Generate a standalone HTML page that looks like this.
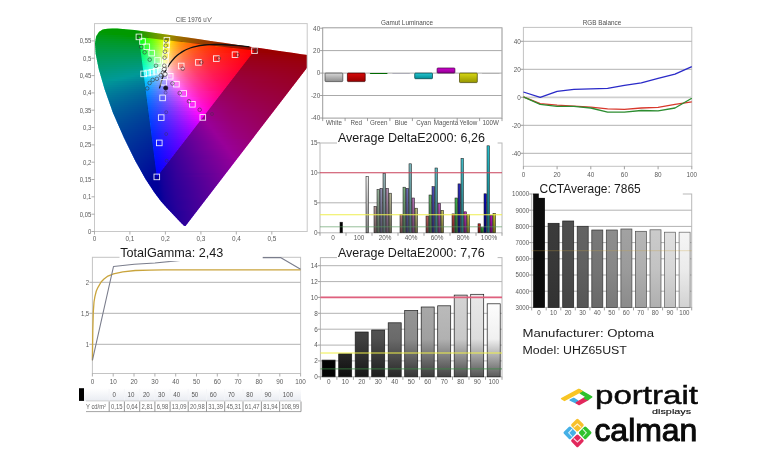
<!DOCTYPE html>
<html><head><meta charset="utf-8"><title>Calman report</title>
<style>html,body{margin:0;padding:0;background:#fff;width:770px;height:450px;overflow:hidden}svg{display:block}text{font-family:"Liberation Sans",sans-serif}</style>
</head><body>
<svg width="770" height="450" viewBox="0 0 770 450">
<defs><linearGradient id="c0" gradientUnits="userSpaceOnUse" x1="104" y1="0" x2="125" y2="0"><stop offset="0.000" stop-color="#00ff00"/><stop offset="1.000" stop-color="#00ff00"/></linearGradient><linearGradient id="c1" gradientUnits="userSpaceOnUse" x1="99" y1="0" x2="143" y2="0"><stop offset="0.000" stop-color="#00ff00"/><stop offset="0.886" stop-color="#01ff00"/><stop offset="0.932" stop-color="#24ff00"/><stop offset="1.000" stop-color="#43ff00"/></linearGradient><linearGradient id="c2" gradientUnits="userSpaceOnUse" x1="97" y1="0" x2="157" y2="0"><stop offset="0.000" stop-color="#00ff03"/><stop offset="0.683" stop-color="#00ff00"/><stop offset="0.717" stop-color="#21ff00"/><stop offset="0.767" stop-color="#42ff00"/><stop offset="1.000" stop-color="#b1ff00"/></linearGradient><linearGradient id="c3" gradientUnits="userSpaceOnUse" x1="95" y1="0" x2="171" y2="0"><stop offset="0.000" stop-color="#00ff1b"/><stop offset="0.263" stop-color="#00ff00"/><stop offset="0.566" stop-color="#00ff00"/><stop offset="0.632" stop-color="#40ff00"/><stop offset="0.750" stop-color="#8cff00"/><stop offset="0.947" stop-color="#fcff00"/><stop offset="1.000" stop-color="#ffe600"/></linearGradient><linearGradient id="c4" gradientUnits="userSpaceOnUse" x1="95" y1="0" x2="185" y2="0"><stop offset="0.000" stop-color="#00ff29"/><stop offset="0.278" stop-color="#00ff15"/><stop offset="0.411" stop-color="#00ff00"/><stop offset="0.478" stop-color="#00ff00"/><stop offset="0.522" stop-color="#33ff00"/><stop offset="0.567" stop-color="#5aff00"/><stop offset="0.800" stop-color="#fdff00"/><stop offset="0.889" stop-color="#ffcd00"/><stop offset="1.000" stop-color="#ffa200"/></linearGradient><linearGradient id="c5" gradientUnits="userSpaceOnUse" x1="94" y1="0" x2="199" y2="0"><stop offset="0.000" stop-color="#00ff36"/><stop offset="0.429" stop-color="#00ff14"/><stop offset="0.438" stop-color="#08ff06"/><stop offset="0.514" stop-color="#49ff00"/><stop offset="0.524" stop-color="#72ff00"/><stop offset="0.695" stop-color="#ffff00"/><stop offset="0.752" stop-color="#ffd700"/><stop offset="0.819" stop-color="#ffb400"/><stop offset="1.000" stop-color="#ff7600"/></linearGradient><linearGradient id="c6" gradientUnits="userSpaceOnUse" x1="94" y1="0" x2="213" y2="0"><stop offset="0.000" stop-color="#00ff41"/><stop offset="0.378" stop-color="#00ff29"/><stop offset="0.387" stop-color="#06ff12"/><stop offset="0.513" stop-color="#85ff09"/><stop offset="0.613" stop-color="#fffe00"/><stop offset="0.681" stop-color="#ffcb00"/><stop offset="0.765" stop-color="#ff9f00"/><stop offset="0.866" stop-color="#ff7900"/><stop offset="1.000" stop-color="#ff5600"/></linearGradient><linearGradient id="c7" gradientUnits="userSpaceOnUse" x1="94" y1="0" x2="226" y2="0"><stop offset="0.000" stop-color="#00ff4b"/><stop offset="0.341" stop-color="#00ff39"/><stop offset="0.348" stop-color="#04ff1e"/><stop offset="0.455" stop-color="#7cff17"/><stop offset="0.553" stop-color="#fffc0e"/><stop offset="0.606" stop-color="#ffbd06"/><stop offset="0.667" stop-color="#ff8d00"/><stop offset="0.674" stop-color="#ffa500"/><stop offset="0.811" stop-color="#ff6e00"/><stop offset="1.000" stop-color="#ff3d00"/></linearGradient><linearGradient id="c8" gradientUnits="userSpaceOnUse" x1="94" y1="0" x2="240" y2="0"><stop offset="0.000" stop-color="#00ff55"/><stop offset="0.308" stop-color="#00ff48"/><stop offset="0.315" stop-color="#02ff2a"/><stop offset="0.411" stop-color="#7bff24"/><stop offset="0.500" stop-color="#fffb1d"/><stop offset="0.534" stop-color="#ffca15"/><stop offset="0.582" stop-color="#ff9b0d"/><stop offset="0.630" stop-color="#ff7a07"/><stop offset="0.692" stop-color="#ff5b02"/><stop offset="0.719" stop-color="#ff5000"/><stop offset="0.726" stop-color="#ff6f00"/><stop offset="1.000" stop-color="#ff2600"/></linearGradient><linearGradient id="c9" gradientUnits="userSpaceOnUse" x1="94" y1="0" x2="254" y2="0"><stop offset="0.000" stop-color="#00ff5e"/><stop offset="0.287" stop-color="#00ff55"/><stop offset="0.294" stop-color="#09ff35"/><stop offset="0.375" stop-color="#7bff32"/><stop offset="0.450" stop-color="#f9ff2d"/><stop offset="0.456" stop-color="#fff92c"/><stop offset="0.487" stop-color="#ffc922"/><stop offset="0.531" stop-color="#ff9918"/><stop offset="0.581" stop-color="#ff7410"/><stop offset="0.644" stop-color="#ff5309"/><stop offset="0.756" stop-color="#ff2e00"/><stop offset="0.762" stop-color="#ff4b00"/><stop offset="1.000" stop-color="#ff0c00"/></linearGradient><linearGradient id="c10" gradientUnits="userSpaceOnUse" x1="94" y1="0" x2="268" y2="0"><stop offset="0.000" stop-color="#00ff67"/><stop offset="0.264" stop-color="#00ff63"/><stop offset="0.270" stop-color="#06ff41"/><stop offset="0.339" stop-color="#71ff40"/><stop offset="0.414" stop-color="#fbff3d"/><stop offset="0.420" stop-color="#fff73b"/><stop offset="0.454" stop-color="#ffbf2c"/><stop offset="0.494" stop-color="#ff9221"/><stop offset="0.546" stop-color="#ff6b17"/><stop offset="0.609" stop-color="#ff4a0e"/><stop offset="0.690" stop-color="#ff2e07"/><stop offset="0.793" stop-color="#ff1600"/><stop offset="0.799" stop-color="#ff2d00"/><stop offset="0.937" stop-color="#ff0000"/><stop offset="1.000" stop-color="#ff0000"/></linearGradient><linearGradient id="c11" gradientUnits="userSpaceOnUse" x1="94" y1="0" x2="281" y2="0"><stop offset="0.000" stop-color="#00ff70"/><stop offset="0.246" stop-color="#00ff6f"/><stop offset="0.251" stop-color="#04ff4e"/><stop offset="0.326" stop-color="#84ff4d"/><stop offset="0.385" stop-color="#fdff4d"/><stop offset="0.390" stop-color="#fff54a"/><stop offset="0.428" stop-color="#ffb536"/><stop offset="0.471" stop-color="#ff8628"/><stop offset="0.524" stop-color="#ff5f1c"/><stop offset="0.588" stop-color="#ff3f12"/><stop offset="0.701" stop-color="#ff1d08"/><stop offset="0.829" stop-color="#ff0500"/><stop offset="0.834" stop-color="#ff0e00"/><stop offset="0.861" stop-color="#ff0000"/><stop offset="1.000" stop-color="#ff0000"/></linearGradient><linearGradient id="c12" gradientUnits="userSpaceOnUse" x1="94" y1="0" x2="295" y2="0"><stop offset="0.000" stop-color="#00ff79"/><stop offset="0.229" stop-color="#00ff7b"/><stop offset="0.234" stop-color="#02ff5a"/><stop offset="0.303" stop-color="#84ff5c"/><stop offset="0.358" stop-color="#ffff5d"/><stop offset="0.393" stop-color="#ffbb45"/><stop offset="0.433" stop-color="#ff8933"/><stop offset="0.488" stop-color="#ff5d24"/><stop offset="0.557" stop-color="#ff3a17"/><stop offset="0.657" stop-color="#ff1b0c"/><stop offset="0.791" stop-color="#ff0003"/><stop offset="0.796" stop-color="#ff000c"/><stop offset="0.861" stop-color="#ff0000"/><stop offset="1.000" stop-color="#ff0000"/></linearGradient><linearGradient id="c13" gradientUnits="userSpaceOnUse" x1="94" y1="0" x2="307" y2="0"><stop offset="0.000" stop-color="#00ff82"/><stop offset="0.221" stop-color="#00ff88"/><stop offset="0.225" stop-color="#09ff68"/><stop offset="0.286" stop-color="#83ff6b"/><stop offset="0.338" stop-color="#fffd6d"/><stop offset="0.371" stop-color="#ffb951"/><stop offset="0.418" stop-color="#ff7d39"/><stop offset="0.474" stop-color="#ff5228"/><stop offset="0.545" stop-color="#ff311a"/><stop offset="0.737" stop-color="#ff0108"/><stop offset="0.742" stop-color="#ff0016"/><stop offset="0.892" stop-color="#ff0000"/><stop offset="1.000" stop-color="#ff0000"/></linearGradient><linearGradient id="c14" gradientUnits="userSpaceOnUse" x1="94" y1="0" x2="307" y2="0"><stop offset="0.000" stop-color="#00ff8a"/><stop offset="0.221" stop-color="#00ff93"/><stop offset="0.225" stop-color="#07ff75"/><stop offset="0.282" stop-color="#79ff79"/><stop offset="0.338" stop-color="#fffc7d"/><stop offset="0.371" stop-color="#ffb75e"/><stop offset="0.418" stop-color="#ff7b43"/><stop offset="0.474" stop-color="#ff502f"/><stop offset="0.545" stop-color="#ff2f20"/><stop offset="0.732" stop-color="#ff000c"/><stop offset="0.737" stop-color="#ff001d"/><stop offset="1.000" stop-color="#ff0000"/></linearGradient><linearGradient id="c15" gradientUnits="userSpaceOnUse" x1="95" y1="0" x2="307" y2="0"><stop offset="0.000" stop-color="#00ff93"/><stop offset="0.217" stop-color="#00ff9f"/><stop offset="0.222" stop-color="#04ff83"/><stop offset="0.278" stop-color="#78ff89"/><stop offset="0.335" stop-color="#fffa8e"/><stop offset="0.368" stop-color="#ffb56a"/><stop offset="0.415" stop-color="#ff794c"/><stop offset="0.472" stop-color="#ff4f37"/><stop offset="0.542" stop-color="#ff2d26"/><stop offset="0.722" stop-color="#ff0111"/><stop offset="0.726" stop-color="#ff0025"/><stop offset="1.000" stop-color="#ff0008"/></linearGradient><linearGradient id="c16" gradientUnits="userSpaceOnUse" x1="95" y1="0" x2="307" y2="0"><stop offset="0.000" stop-color="#00ff9b"/><stop offset="0.217" stop-color="#00ffab"/><stop offset="0.222" stop-color="#02ff90"/><stop offset="0.278" stop-color="#78ff98"/><stop offset="0.330" stop-color="#f9ffa2"/><stop offset="0.335" stop-color="#fff89e"/><stop offset="0.368" stop-color="#ffb277"/><stop offset="0.415" stop-color="#ff7756"/><stop offset="0.472" stop-color="#ff4d3e"/><stop offset="0.542" stop-color="#ff2c2c"/><stop offset="0.717" stop-color="#ff0015"/><stop offset="0.722" stop-color="#ff002c"/><stop offset="1.000" stop-color="#ff000f"/></linearGradient><linearGradient id="c17" gradientUnits="userSpaceOnUse" x1="96" y1="0" x2="307" y2="0"><stop offset="0.000" stop-color="#00ffa4"/><stop offset="0.218" stop-color="#00ffb7"/><stop offset="0.223" stop-color="#09ffa0"/><stop offset="0.280" stop-color="#82ffaa"/><stop offset="0.327" stop-color="#fbffb4"/><stop offset="0.332" stop-color="#fff6af"/><stop offset="0.365" stop-color="#ffb084"/><stop offset="0.408" stop-color="#ff7a63"/><stop offset="0.464" stop-color="#ff4e48"/><stop offset="0.540" stop-color="#ff2a32"/><stop offset="0.706" stop-color="#ff011a"/><stop offset="0.711" stop-color="#ff0032"/><stop offset="1.000" stop-color="#ff0015"/></linearGradient><linearGradient id="c18" gradientUnits="userSpaceOnUse" x1="96" y1="0" x2="307" y2="0"><stop offset="0.000" stop-color="#00ffac"/><stop offset="0.218" stop-color="#00ffc3"/><stop offset="0.223" stop-color="#07ffae"/><stop offset="0.280" stop-color="#82ffbb"/><stop offset="0.327" stop-color="#fdffc8"/><stop offset="0.332" stop-color="#fff4c0"/><stop offset="0.365" stop-color="#ffae91"/><stop offset="0.408" stop-color="#ff786d"/><stop offset="0.464" stop-color="#ff4c4f"/><stop offset="0.540" stop-color="#ff2938"/><stop offset="0.701" stop-color="#ff001e"/><stop offset="0.706" stop-color="#ff0038"/><stop offset="1.000" stop-color="#ff001a"/></linearGradient><linearGradient id="c19" gradientUnits="userSpaceOnUse" x1="96" y1="0" x2="307" y2="0"><stop offset="0.000" stop-color="#00ffb4"/><stop offset="0.218" stop-color="#00ffce"/><stop offset="0.223" stop-color="#04ffbe"/><stop offset="0.280" stop-color="#81ffcc"/><stop offset="0.327" stop-color="#ffffdb"/><stop offset="0.360" stop-color="#ffb4a4"/><stop offset="0.403" stop-color="#ff7a7a"/><stop offset="0.460" stop-color="#ff4d59"/><stop offset="0.531" stop-color="#ff2b40"/><stop offset="0.692" stop-color="#ff0123"/><stop offset="0.697" stop-color="#ff003f"/><stop offset="1.000" stop-color="#ff001e"/></linearGradient><linearGradient id="c20" gradientUnits="userSpaceOnUse" x1="97" y1="0" x2="307" y2="0"><stop offset="0.000" stop-color="#00ffbd"/><stop offset="0.214" stop-color="#00ffda"/><stop offset="0.219" stop-color="#02ffcd"/><stop offset="0.276" stop-color="#81ffde"/><stop offset="0.324" stop-color="#fffdee"/><stop offset="0.357" stop-color="#ffb1b2"/><stop offset="0.400" stop-color="#ff7885"/><stop offset="0.457" stop-color="#ff4b61"/><stop offset="0.529" stop-color="#ff2946"/><stop offset="0.686" stop-color="#ff0028"/><stop offset="0.690" stop-color="#ff0045"/><stop offset="1.000" stop-color="#ff0023"/></linearGradient><linearGradient id="c21" gradientUnits="userSpaceOnUse" x1="97" y1="0" x2="307" y2="0"><stop offset="0.000" stop-color="#00ffc5"/><stop offset="0.219" stop-color="#00ffe7"/><stop offset="0.224" stop-color="#0affdf"/><stop offset="0.271" stop-color="#75ffef"/><stop offset="0.310" stop-color="#d9ffff"/><stop offset="0.324" stop-color="#fdf9ff"/><stop offset="0.329" stop-color="#ffedf5"/><stop offset="0.362" stop-color="#ffa7b9"/><stop offset="0.405" stop-color="#ff718b"/><stop offset="0.462" stop-color="#ff4666"/><stop offset="0.538" stop-color="#ff244a"/><stop offset="0.676" stop-color="#ff012d"/><stop offset="0.681" stop-color="#ff004b"/><stop offset="1.000" stop-color="#ff0027"/></linearGradient><linearGradient id="c22" gradientUnits="userSpaceOnUse" x1="98" y1="0" x2="306" y2="0"><stop offset="0.000" stop-color="#00ffce"/><stop offset="0.216" stop-color="#00fff3"/><stop offset="0.264" stop-color="#68feff"/><stop offset="0.332" stop-color="#ffdefc"/><stop offset="0.365" stop-color="#ff9dc0"/><stop offset="0.409" stop-color="#ff6b91"/><stop offset="0.466" stop-color="#ff426c"/><stop offset="0.543" stop-color="#ff214e"/><stop offset="0.668" stop-color="#ff0133"/><stop offset="0.673" stop-color="#ff0052"/><stop offset="1.000" stop-color="#ff002b"/></linearGradient><linearGradient id="c23" gradientUnits="userSpaceOnUse" x1="98" y1="0" x2="304" y2="0"><stop offset="0.000" stop-color="#00ffd7"/><stop offset="0.218" stop-color="#00ffff"/><stop offset="0.223" stop-color="#04fdff"/><stop offset="0.340" stop-color="#fbceff"/><stop offset="0.345" stop-color="#ffc6f8"/><stop offset="0.379" stop-color="#ff8dc0"/><stop offset="0.427" stop-color="#ff5c90"/><stop offset="0.485" stop-color="#ff386c"/><stop offset="0.563" stop-color="#ff1a50"/><stop offset="0.670" stop-color="#ff0038"/><stop offset="0.675" stop-color="#ff0057"/><stop offset="1.000" stop-color="#ff0030"/></linearGradient><linearGradient id="c24" gradientUnits="userSpaceOnUse" x1="99" y1="0" x2="303" y2="0"><stop offset="0.000" stop-color="#00ffe0"/><stop offset="0.167" stop-color="#00fffe"/><stop offset="0.221" stop-color="#01edff"/><stop offset="0.348" stop-color="#ffbafe"/><stop offset="0.382" stop-color="#ff85c6"/><stop offset="0.426" stop-color="#ff5a99"/><stop offset="0.485" stop-color="#ff3674"/><stop offset="0.559" stop-color="#ff1a57"/><stop offset="0.662" stop-color="#ff013e"/><stop offset="0.667" stop-color="#ff005e"/><stop offset="1.000" stop-color="#ff0034"/></linearGradient><linearGradient id="c25" gradientUnits="userSpaceOnUse" x1="100" y1="0" x2="301" y2="0"><stop offset="0.000" stop-color="#00ffe9"/><stop offset="0.119" stop-color="#00ffff"/><stop offset="0.219" stop-color="#00e8ff"/><stop offset="0.224" stop-color="#09dcff"/><stop offset="0.358" stop-color="#ffa5fa"/><stop offset="0.398" stop-color="#ff72c0"/><stop offset="0.443" stop-color="#ff4d97"/><stop offset="0.502" stop-color="#ff2e74"/><stop offset="0.572" stop-color="#ff1659"/><stop offset="0.662" stop-color="#ff0044"/><stop offset="0.667" stop-color="#ff0064"/><stop offset="1.000" stop-color="#ff0038"/></linearGradient><linearGradient id="c26" gradientUnits="userSpaceOnUse" x1="100" y1="0" x2="300" y2="0"><stop offset="0.000" stop-color="#00fff2"/><stop offset="0.075" stop-color="#00ffff"/><stop offset="0.220" stop-color="#00deff"/><stop offset="0.225" stop-color="#06cfff"/><stop offset="0.365" stop-color="#fe9aff"/><stop offset="0.405" stop-color="#ff6bc6"/><stop offset="0.450" stop-color="#ff489c"/><stop offset="0.510" stop-color="#ff2a78"/><stop offset="0.580" stop-color="#ff125d"/><stop offset="0.655" stop-color="#ff014a"/><stop offset="0.660" stop-color="#ff006a"/><stop offset="1.000" stop-color="#ff003c"/></linearGradient><linearGradient id="c27" gradientUnits="userSpaceOnUse" x1="101" y1="0" x2="298" y2="0"><stop offset="0.000" stop-color="#00fffb"/><stop offset="0.218" stop-color="#00d4ff"/><stop offset="0.223" stop-color="#03c3ff"/><stop offset="0.376" stop-color="#ff8afc"/><stop offset="0.416" stop-color="#ff5fc5"/><stop offset="0.462" stop-color="#ff409d"/><stop offset="0.523" stop-color="#ff247a"/><stop offset="0.594" stop-color="#ff0e60"/><stop offset="0.655" stop-color="#ff0050"/><stop offset="0.660" stop-color="#ff0070"/><stop offset="0.807" stop-color="#ff0056"/><stop offset="1.000" stop-color="#ff0040"/></linearGradient><linearGradient id="c28" gradientUnits="userSpaceOnUse" x1="101" y1="0" x2="297" y2="0"><stop offset="0.000" stop-color="#00faff"/><stop offset="0.219" stop-color="#00ccff"/><stop offset="0.224" stop-color="#01b8ff"/><stop offset="0.383" stop-color="#fd80ff"/><stop offset="0.388" stop-color="#ff7bf9"/><stop offset="0.429" stop-color="#ff55c5"/><stop offset="0.474" stop-color="#ff389f"/><stop offset="0.536" stop-color="#ff1e7d"/><stop offset="0.612" stop-color="#ff0961"/><stop offset="0.648" stop-color="#ff0157"/><stop offset="0.653" stop-color="#ff0077"/><stop offset="0.806" stop-color="#ff005b"/><stop offset="1.000" stop-color="#ff0044"/></linearGradient><linearGradient id="c29" gradientUnits="userSpaceOnUse" x1="102" y1="0" x2="295" y2="0"><stop offset="0.000" stop-color="#00f1ff"/><stop offset="0.223" stop-color="#00c3ff"/><stop offset="0.228" stop-color="#07acff"/><stop offset="0.394" stop-color="#ff73fe"/><stop offset="0.435" stop-color="#ff4fca"/><stop offset="0.482" stop-color="#ff33a3"/><stop offset="0.544" stop-color="#ff1b81"/><stop offset="0.617" stop-color="#ff0766"/><stop offset="0.648" stop-color="#ff005d"/><stop offset="0.653" stop-color="#ff007d"/><stop offset="0.803" stop-color="#ff0060"/><stop offset="1.000" stop-color="#ff0048"/></linearGradient><linearGradient id="c30" gradientUnits="userSpaceOnUse" x1="102" y1="0" x2="294" y2="0"><stop offset="0.000" stop-color="#00e9ff"/><stop offset="0.224" stop-color="#00bbff"/><stop offset="0.229" stop-color="#05a2ff"/><stop offset="0.406" stop-color="#ff66fb"/><stop offset="0.448" stop-color="#ff45ca"/><stop offset="0.500" stop-color="#ff2aa1"/><stop offset="0.562" stop-color="#ff1480"/><stop offset="0.635" stop-color="#ff0266"/><stop offset="0.641" stop-color="#ff0165"/><stop offset="0.646" stop-color="#ff0084"/><stop offset="0.797" stop-color="#ff0065"/><stop offset="1.000" stop-color="#ff004c"/></linearGradient><linearGradient id="c31" gradientUnits="userSpaceOnUse" x1="103" y1="0" x2="292" y2="0"><stop offset="0.000" stop-color="#00e1ff"/><stop offset="0.222" stop-color="#00b4ff"/><stop offset="0.228" stop-color="#0399ff"/><stop offset="0.413" stop-color="#ff5eff"/><stop offset="0.455" stop-color="#ff40ce"/><stop offset="0.503" stop-color="#ff28a9"/><stop offset="0.566" stop-color="#ff1286"/><stop offset="0.640" stop-color="#ff006b"/><stop offset="0.646" stop-color="#ff008a"/><stop offset="0.799" stop-color="#ff006a"/><stop offset="1.000" stop-color="#ff0050"/></linearGradient><linearGradient id="c32" gradientUnits="userSpaceOnUse" x1="104" y1="0" x2="291" y2="0"><stop offset="0.000" stop-color="#00d9ff"/><stop offset="0.219" stop-color="#00adff"/><stop offset="0.225" stop-color="#0191ff"/><stop offset="0.422" stop-color="#ff53fc"/><stop offset="0.460" stop-color="#ff3ad3"/><stop offset="0.508" stop-color="#ff24ad"/><stop offset="0.631" stop-color="#ff0174"/><stop offset="0.636" stop-color="#ff0091"/><stop offset="0.791" stop-color="#ff006f"/><stop offset="1.000" stop-color="#ff0054"/></linearGradient><linearGradient id="c33" gradientUnits="userSpaceOnUse" x1="104" y1="0" x2="289" y2="0"><stop offset="0.000" stop-color="#00d2ff"/><stop offset="0.227" stop-color="#00a5ff"/><stop offset="0.232" stop-color="#0688ff"/><stop offset="0.432" stop-color="#fe4cff"/><stop offset="0.438" stop-color="#ff49fa"/><stop offset="0.476" stop-color="#ff32d2"/><stop offset="0.519" stop-color="#ff20b1"/><stop offset="0.627" stop-color="#ff017d"/><stop offset="0.632" stop-color="#ff0099"/><stop offset="0.789" stop-color="#ff0075"/><stop offset="1.000" stop-color="#ff0058"/></linearGradient><linearGradient id="c34" gradientUnits="userSpaceOnUse" x1="105" y1="0" x2="288" y2="0"><stop offset="0.000" stop-color="#00cbff"/><stop offset="0.224" stop-color="#009fff"/><stop offset="0.230" stop-color="#0481ff"/><stop offset="0.443" stop-color="#ff42fe"/><stop offset="0.475" stop-color="#ff30db"/><stop offset="0.519" stop-color="#ff1eb8"/><stop offset="0.623" stop-color="#ff0184"/><stop offset="0.628" stop-color="#ff009f"/><stop offset="0.787" stop-color="#ff007a"/><stop offset="1.000" stop-color="#ff005c"/></linearGradient><linearGradient id="c35" gradientUnits="userSpaceOnUse" x1="106" y1="0" x2="286" y2="0"><stop offset="0.000" stop-color="#00c4ff"/><stop offset="0.222" stop-color="#009aff"/><stop offset="0.228" stop-color="#027aff"/><stop offset="0.456" stop-color="#ff39fb"/><stop offset="0.528" stop-color="#ff1abc"/><stop offset="0.617" stop-color="#ff018e"/><stop offset="0.622" stop-color="#ff00a8"/><stop offset="0.783" stop-color="#ff0080"/><stop offset="1.000" stop-color="#ff0060"/></linearGradient><linearGradient id="c36" gradientUnits="userSpaceOnUse" x1="107" y1="0" x2="284" y2="0"><stop offset="0.000" stop-color="#00beff"/><stop offset="0.220" stop-color="#0094ff"/><stop offset="0.226" stop-color="#0074ff"/><stop offset="0.463" stop-color="#ff34ff"/><stop offset="0.531" stop-color="#ff17c4"/><stop offset="0.616" stop-color="#ff0096"/><stop offset="0.621" stop-color="#ff00ae"/><stop offset="0.785" stop-color="#ff0084"/><stop offset="1.000" stop-color="#ff0064"/></linearGradient><linearGradient id="c37" gradientUnits="userSpaceOnUse" x1="107" y1="0" x2="283" y2="0"><stop offset="0.000" stop-color="#00b8ff"/><stop offset="0.227" stop-color="#008eff"/><stop offset="0.233" stop-color="#056dff"/><stop offset="0.477" stop-color="#ff2cfc"/><stop offset="0.534" stop-color="#ff15cb"/><stop offset="0.608" stop-color="#ff01a1"/><stop offset="0.614" stop-color="#ff00b7"/><stop offset="0.778" stop-color="#ff008a"/><stop offset="1.000" stop-color="#ff0068"/></linearGradient><linearGradient id="c38" gradientUnits="userSpaceOnUse" x1="108" y1="0" x2="281" y2="0"><stop offset="0.000" stop-color="#00b2ff"/><stop offset="0.225" stop-color="#0089ff"/><stop offset="0.231" stop-color="#0367ff"/><stop offset="0.486" stop-color="#fe26ff"/><stop offset="0.543" stop-color="#ff11cf"/><stop offset="0.607" stop-color="#ff00aa"/><stop offset="0.613" stop-color="#ff00be"/><stop offset="0.775" stop-color="#ff0091"/><stop offset="1.000" stop-color="#ff006c"/></linearGradient><linearGradient id="c39" gradientUnits="userSpaceOnUse" x1="109" y1="0" x2="280" y2="0"><stop offset="0.000" stop-color="#00acff"/><stop offset="0.222" stop-color="#0084ff"/><stop offset="0.228" stop-color="#0262ff"/><stop offset="0.497" stop-color="#ff1ffd"/><stop offset="0.544" stop-color="#ff0fd7"/><stop offset="0.596" stop-color="#ff01b6"/><stop offset="0.602" stop-color="#ff00c7"/><stop offset="0.772" stop-color="#ff0096"/><stop offset="1.000" stop-color="#ff0070"/></linearGradient><linearGradient id="c40" gradientUnits="userSpaceOnUse" x1="109" y1="0" x2="278" y2="0"><stop offset="0.000" stop-color="#00a7ff"/><stop offset="0.225" stop-color="#007fff"/><stop offset="0.231" stop-color="#005dff"/><stop offset="0.515" stop-color="#ff18fb"/><stop offset="0.598" stop-color="#ff00c0"/><stop offset="0.604" stop-color="#ff00cf"/><stop offset="0.769" stop-color="#ff009c"/><stop offset="1.000" stop-color="#ff0074"/></linearGradient><linearGradient id="c41" gradientUnits="userSpaceOnUse" x1="110" y1="0" x2="277" y2="0"><stop offset="0.000" stop-color="#00a2ff"/><stop offset="0.228" stop-color="#007aff"/><stop offset="0.234" stop-color="#0557ff"/><stop offset="0.521" stop-color="#ff14fe"/><stop offset="0.587" stop-color="#ff01ce"/><stop offset="0.593" stop-color="#ff00d9"/><stop offset="0.760" stop-color="#ff00a3"/><stop offset="1.000" stop-color="#ff0078"/></linearGradient><linearGradient id="c42" gradientUnits="userSpaceOnUse" x1="111" y1="0" x2="275" y2="0"><stop offset="0.000" stop-color="#009cff"/><stop offset="0.226" stop-color="#0076ff"/><stop offset="0.232" stop-color="#0353ff"/><stop offset="0.537" stop-color="#ff0dfc"/><stop offset="0.579" stop-color="#ff02dc"/><stop offset="0.585" stop-color="#ff00e3"/><stop offset="0.726" stop-color="#ff00b1"/><stop offset="1.000" stop-color="#ff007d"/></linearGradient><linearGradient id="c43" gradientUnits="userSpaceOnUse" x1="112" y1="0" x2="274" y2="0"><stop offset="0.000" stop-color="#0097ff"/><stop offset="0.222" stop-color="#0071ff"/><stop offset="0.228" stop-color="#024fff"/><stop offset="0.543" stop-color="#ff09ff"/><stop offset="0.574" stop-color="#ff01e8"/><stop offset="0.580" stop-color="#ff00ec"/><stop offset="0.728" stop-color="#ff00b5"/><stop offset="1.000" stop-color="#ff0081"/></linearGradient><linearGradient id="c44" gradientUnits="userSpaceOnUse" x1="112" y1="0" x2="272" y2="0"><stop offset="0.000" stop-color="#0093ff"/><stop offset="0.225" stop-color="#006dff"/><stop offset="0.231" stop-color="#004bff"/><stop offset="0.562" stop-color="#ff03fd"/><stop offset="0.644" stop-color="#ff00d8"/><stop offset="0.744" stop-color="#ff00b8"/><stop offset="1.000" stop-color="#ff0085"/></linearGradient><linearGradient id="c45" gradientUnits="userSpaceOnUse" x1="113" y1="0" x2="271" y2="0"><stop offset="0.000" stop-color="#008eff"/><stop offset="0.228" stop-color="#0068ff"/><stop offset="0.234" stop-color="#0446ff"/><stop offset="0.570" stop-color="#fe00ff"/><stop offset="0.652" stop-color="#ff00da"/><stop offset="0.747" stop-color="#ff00bc"/><stop offset="1.000" stop-color="#ff0089"/></linearGradient><linearGradient id="c46" gradientUnits="userSpaceOnUse" x1="114" y1="0" x2="269" y2="0"><stop offset="0.000" stop-color="#0089ff"/><stop offset="0.226" stop-color="#0065ff"/><stop offset="0.232" stop-color="#0342ff"/><stop offset="0.535" stop-color="#da06ff"/><stop offset="0.561" stop-color="#f200ff"/><stop offset="0.587" stop-color="#ff00fe"/><stop offset="0.665" stop-color="#ff00dd"/><stop offset="0.761" stop-color="#ff00be"/><stop offset="1.000" stop-color="#ff008e"/></linearGradient><linearGradient id="c47" gradientUnits="userSpaceOnUse" x1="115" y1="0" x2="268" y2="0"><stop offset="0.000" stop-color="#0085ff"/><stop offset="0.222" stop-color="#0061ff"/><stop offset="0.229" stop-color="#013fff"/><stop offset="0.549" stop-color="#dd00ff"/><stop offset="0.556" stop-color="#ea00ff"/><stop offset="0.595" stop-color="#fe00ff"/><stop offset="0.771" stop-color="#ff00c0"/><stop offset="1.000" stop-color="#ff0092"/></linearGradient><linearGradient id="c48" gradientUnits="userSpaceOnUse" x1="116" y1="0" x2="266" y2="0"><stop offset="0.000" stop-color="#0080ff"/><stop offset="0.227" stop-color="#005cff"/><stop offset="0.233" stop-color="#053bff"/><stop offset="0.540" stop-color="#cd01ff"/><stop offset="0.547" stop-color="#df00ff"/><stop offset="0.613" stop-color="#ff00ff"/><stop offset="0.780" stop-color="#ff00c4"/><stop offset="1.000" stop-color="#ff0097"/></linearGradient><linearGradient id="c49" gradientUnits="userSpaceOnUse" x1="117" y1="0" x2="265" y2="0"><stop offset="0.000" stop-color="#007cff"/><stop offset="0.223" stop-color="#0059ff"/><stop offset="0.230" stop-color="#0438ff"/><stop offset="0.534" stop-color="#c300ff"/><stop offset="0.541" stop-color="#d700ff"/><stop offset="0.628" stop-color="#ff00fe"/><stop offset="0.791" stop-color="#ff00c6"/><stop offset="1.000" stop-color="#ff009b"/></linearGradient><linearGradient id="c50" gradientUnits="userSpaceOnUse" x1="118" y1="0" x2="263" y2="0"><stop offset="0.000" stop-color="#0078ff"/><stop offset="0.221" stop-color="#0056ff"/><stop offset="0.228" stop-color="#0235ff"/><stop offset="0.524" stop-color="#b501ff"/><stop offset="0.531" stop-color="#cc00ff"/><stop offset="0.641" stop-color="#fe00ff"/><stop offset="0.800" stop-color="#ff00ca"/><stop offset="1.000" stop-color="#ff00a0"/></linearGradient><linearGradient id="c51" gradientUnits="userSpaceOnUse" x1="119" y1="0" x2="261" y2="0"><stop offset="0.000" stop-color="#0073ff"/><stop offset="0.218" stop-color="#0053ff"/><stop offset="0.225" stop-color="#0132ff"/><stop offset="0.521" stop-color="#ac00ff"/><stop offset="0.528" stop-color="#c500ff"/><stop offset="0.662" stop-color="#ff00fe"/><stop offset="0.810" stop-color="#ff00cd"/><stop offset="1.000" stop-color="#ff00a6"/></linearGradient><linearGradient id="c52" gradientUnits="userSpaceOnUse" x1="119" y1="0" x2="260" y2="0"><stop offset="0.000" stop-color="#0070ff"/><stop offset="0.227" stop-color="#004eff"/><stop offset="0.234" stop-color="#042eff"/><stop offset="0.511" stop-color="#a001ff"/><stop offset="0.518" stop-color="#bb00ff"/><stop offset="0.674" stop-color="#fe00ff"/><stop offset="0.823" stop-color="#ff00cf"/><stop offset="1.000" stop-color="#ff00aa"/></linearGradient><linearGradient id="c53" gradientUnits="userSpaceOnUse" x1="120" y1="0" x2="258" y2="0"><stop offset="0.000" stop-color="#006cff"/><stop offset="0.225" stop-color="#004bff"/><stop offset="0.232" stop-color="#032bff"/><stop offset="0.500" stop-color="#9301ff"/><stop offset="0.507" stop-color="#b100ff"/><stop offset="0.696" stop-color="#ff00ff"/><stop offset="0.833" stop-color="#ff00d3"/><stop offset="1.000" stop-color="#ff00b0"/></linearGradient><linearGradient id="c54" gradientUnits="userSpaceOnUse" x1="121" y1="0" x2="257" y2="0"><stop offset="0.000" stop-color="#0068ff"/><stop offset="0.221" stop-color="#0048ff"/><stop offset="0.228" stop-color="#0229ff"/><stop offset="0.493" stop-color="#8c01ff"/><stop offset="0.500" stop-color="#ab00ff"/><stop offset="0.706" stop-color="#fd00ff"/><stop offset="0.846" stop-color="#ff00d5"/><stop offset="1.000" stop-color="#ff00b4"/></linearGradient><linearGradient id="c55" gradientUnits="userSpaceOnUse" x1="122" y1="0" x2="255" y2="0"><stop offset="0.000" stop-color="#0064ff"/><stop offset="0.218" stop-color="#0045ff"/><stop offset="0.226" stop-color="#0127ff"/><stop offset="0.481" stop-color="#8101ff"/><stop offset="0.489" stop-color="#a100ff"/><stop offset="0.729" stop-color="#ff00ff"/><stop offset="0.857" stop-color="#ff00d8"/><stop offset="1.000" stop-color="#ff00ba"/></linearGradient><linearGradient id="c56" gradientUnits="userSpaceOnUse" x1="123" y1="0" x2="254" y2="0"><stop offset="0.000" stop-color="#0061ff"/><stop offset="0.221" stop-color="#0041ff"/><stop offset="0.229" stop-color="#0423ff"/><stop offset="0.473" stop-color="#7900ff"/><stop offset="0.481" stop-color="#9b00ff"/><stop offset="0.740" stop-color="#fd00ff"/><stop offset="1.000" stop-color="#ff00be"/></linearGradient><linearGradient id="c57" gradientUnits="userSpaceOnUse" x1="124" y1="0" x2="252" y2="0"><stop offset="0.000" stop-color="#005dff"/><stop offset="0.219" stop-color="#003eff"/><stop offset="0.227" stop-color="#0321ff"/><stop offset="0.461" stop-color="#6f01ff"/><stop offset="0.469" stop-color="#9200ff"/><stop offset="0.766" stop-color="#fe00ff"/><stop offset="1.000" stop-color="#ff00c4"/></linearGradient><linearGradient id="c58" gradientUnits="userSpaceOnUse" x1="125" y1="0" x2="251" y2="0"><stop offset="0.000" stop-color="#0059ff"/><stop offset="0.214" stop-color="#003bff"/><stop offset="0.222" stop-color="#021fff"/><stop offset="0.452" stop-color="#6900ff"/><stop offset="0.460" stop-color="#8c00ff"/><stop offset="0.778" stop-color="#fd00ff"/><stop offset="1.000" stop-color="#ff00c9"/></linearGradient><linearGradient id="c59" gradientUnits="userSpaceOnUse" x1="126" y1="0" x2="249" y2="0"><stop offset="0.000" stop-color="#0055ff"/><stop offset="0.211" stop-color="#0039ff"/><stop offset="0.220" stop-color="#011dff"/><stop offset="0.439" stop-color="#5f01ff"/><stop offset="0.447" stop-color="#8300ff"/><stop offset="0.699" stop-color="#dc00ff"/><stop offset="0.813" stop-color="#ff00fe"/><stop offset="1.000" stop-color="#ff00cf"/></linearGradient><linearGradient id="c60" gradientUnits="userSpaceOnUse" x1="127" y1="0" x2="248" y2="0"><stop offset="0.000" stop-color="#0052ff"/><stop offset="0.215" stop-color="#0035ff"/><stop offset="0.223" stop-color="#041aff"/><stop offset="0.430" stop-color="#5900ff"/><stop offset="0.438" stop-color="#7d00ff"/><stop offset="0.653" stop-color="#c900ff"/><stop offset="0.826" stop-color="#ff00ff"/><stop offset="1.000" stop-color="#ff00d4"/></linearGradient><linearGradient id="c61" gradientUnits="userSpaceOnUse" x1="128" y1="0" x2="246" y2="0"><stop offset="0.000" stop-color="#004eff"/><stop offset="0.212" stop-color="#0032ff"/><stop offset="0.220" stop-color="#0318ff"/><stop offset="0.415" stop-color="#5001ff"/><stop offset="0.424" stop-color="#7500ff"/><stop offset="0.602" stop-color="#b300ff"/><stop offset="0.847" stop-color="#fd00ff"/><stop offset="1.000" stop-color="#ff00db"/></linearGradient><linearGradient id="c62" gradientUnits="userSpaceOnUse" x1="129" y1="0" x2="245" y2="0"><stop offset="0.000" stop-color="#004bff"/><stop offset="0.207" stop-color="#002fff"/><stop offset="0.216" stop-color="#0216ff"/><stop offset="0.405" stop-color="#4b00ff"/><stop offset="0.414" stop-color="#6f00ff"/><stop offset="0.560" stop-color="#a200ff"/><stop offset="0.871" stop-color="#fe00ff"/><stop offset="1.000" stop-color="#ff00e0"/></linearGradient><linearGradient id="c63" gradientUnits="userSpaceOnUse" x1="130" y1="0" x2="243" y2="0"><stop offset="0.000" stop-color="#0047ff"/><stop offset="0.204" stop-color="#002dff"/><stop offset="0.212" stop-color="#0114ff"/><stop offset="0.389" stop-color="#4201ff"/><stop offset="0.398" stop-color="#6700ff"/><stop offset="0.522" stop-color="#9100ff"/><stop offset="0.894" stop-color="#fd00ff"/><stop offset="1.000" stop-color="#ff00e7"/></linearGradient><linearGradient id="c64" gradientUnits="userSpaceOnUse" x1="131" y1="0" x2="241" y2="0"><stop offset="0.000" stop-color="#0044ff"/><stop offset="0.209" stop-color="#0029ff"/><stop offset="0.218" stop-color="#0312ff"/><stop offset="0.373" stop-color="#3a01ff"/><stop offset="0.382" stop-color="#5e00ff"/><stop offset="0.491" stop-color="#8300ff"/><stop offset="0.927" stop-color="#fe00ff"/><stop offset="1.000" stop-color="#ff00ef"/></linearGradient><linearGradient id="c65" gradientUnits="userSpaceOnUse" x1="132" y1="0" x2="240" y2="0"><stop offset="0.000" stop-color="#0040ff"/><stop offset="0.204" stop-color="#0026ff"/><stop offset="0.213" stop-color="#0210ff"/><stop offset="0.361" stop-color="#3500ff"/><stop offset="0.370" stop-color="#5900ff"/><stop offset="0.463" stop-color="#7800ff"/><stop offset="0.907" stop-color="#f300ff"/><stop offset="0.954" stop-color="#ff00ff"/><stop offset="1.000" stop-color="#ff00f4"/></linearGradient><linearGradient id="c66" gradientUnits="userSpaceOnUse" x1="133" y1="0" x2="238" y2="0"><stop offset="0.000" stop-color="#003dff"/><stop offset="0.200" stop-color="#0023ff"/><stop offset="0.210" stop-color="#010eff"/><stop offset="0.343" stop-color="#2d01ff"/><stop offset="0.352" stop-color="#5000ff"/><stop offset="0.438" stop-color="#6d00ff"/><stop offset="0.714" stop-color="#bc00ff"/><stop offset="1.000" stop-color="#ff00fc"/></linearGradient><linearGradient id="c67" gradientUnits="userSpaceOnUse" x1="134" y1="0" x2="237" y2="0"><stop offset="0.000" stop-color="#003aff"/><stop offset="0.194" stop-color="#0020ff"/><stop offset="0.204" stop-color="#000dff"/><stop offset="0.330" stop-color="#2900ff"/><stop offset="0.340" stop-color="#4b00ff"/><stop offset="0.427" stop-color="#6800ff"/><stop offset="0.670" stop-color="#ad00ff"/><stop offset="1.000" stop-color="#fc00ff"/></linearGradient><linearGradient id="c68" gradientUnits="userSpaceOnUse" x1="135" y1="0" x2="235" y2="0"><stop offset="0.000" stop-color="#0036ff"/><stop offset="0.200" stop-color="#001cff"/><stop offset="0.210" stop-color="#030aff"/><stop offset="0.310" stop-color="#2201ff"/><stop offset="0.320" stop-color="#4200ff"/><stop offset="0.430" stop-color="#6600ff"/><stop offset="0.670" stop-color="#a800ff"/><stop offset="1.000" stop-color="#f500ff"/></linearGradient><linearGradient id="c69" gradientUnits="userSpaceOnUse" x1="136" y1="0" x2="234" y2="0"><stop offset="0.000" stop-color="#0033ff"/><stop offset="0.194" stop-color="#0019ff"/><stop offset="0.204" stop-color="#0209ff"/><stop offset="0.296" stop-color="#1d00ff"/><stop offset="0.306" stop-color="#3c00ff"/><stop offset="0.429" stop-color="#6400ff"/><stop offset="0.673" stop-color="#a500ff"/><stop offset="1.000" stop-color="#ef00ff"/></linearGradient><linearGradient id="c70" gradientUnits="userSpaceOnUse" x1="137" y1="0" x2="232" y2="0"><stop offset="0.000" stop-color="#002fff"/><stop offset="0.189" stop-color="#0017ff"/><stop offset="0.200" stop-color="#0107ff"/><stop offset="0.274" stop-color="#1601ff"/><stop offset="0.284" stop-color="#3300ff"/><stop offset="0.421" stop-color="#6000ff"/><stop offset="0.663" stop-color="#9e00ff"/><stop offset="1.000" stop-color="#e800ff"/></linearGradient><linearGradient id="c71" gradientUnits="userSpaceOnUse" x1="138" y1="0" x2="231" y2="0"><stop offset="0.000" stop-color="#002cff"/><stop offset="0.183" stop-color="#0014ff"/><stop offset="0.194" stop-color="#0006ff"/><stop offset="0.258" stop-color="#1200ff"/><stop offset="0.269" stop-color="#2d00ff"/><stop offset="0.419" stop-color="#5e00ff"/><stop offset="0.667" stop-color="#9c00ff"/><stop offset="1.000" stop-color="#e200ff"/></linearGradient><linearGradient id="c72" gradientUnits="userSpaceOnUse" x1="139" y1="0" x2="229" y2="0"><stop offset="0.000" stop-color="#0028ff"/><stop offset="0.189" stop-color="#000eff"/><stop offset="0.200" stop-color="#0303ff"/><stop offset="0.233" stop-color="#0c01ff"/><stop offset="0.244" stop-color="#2200ff"/><stop offset="0.256" stop-color="#2700ff"/><stop offset="0.422" stop-color="#5c00ff"/><stop offset="0.667" stop-color="#9700ff"/><stop offset="1.000" stop-color="#db00ff"/></linearGradient><linearGradient id="c73" gradientUnits="userSpaceOnUse" x1="141" y1="0" x2="228" y2="0"><stop offset="0.000" stop-color="#0023ff"/><stop offset="0.161" stop-color="#000dff"/><stop offset="0.184" stop-color="#0202ff"/><stop offset="0.207" stop-color="#0800ff"/><stop offset="0.218" stop-color="#1c00ff"/><stop offset="0.241" stop-color="#2600ff"/><stop offset="0.414" stop-color="#5a00ff"/><stop offset="1.000" stop-color="#d600ff"/></linearGradient><linearGradient id="c74" gradientUnits="userSpaceOnUse" x1="142" y1="0" x2="226" y2="0"><stop offset="0.000" stop-color="#0020ff"/><stop offset="0.131" stop-color="#000eff"/><stop offset="0.179" stop-color="#0100ff"/><stop offset="0.190" stop-color="#0e00ff"/><stop offset="0.238" stop-color="#2400ff"/><stop offset="0.405" stop-color="#5600ff"/><stop offset="0.655" stop-color="#8e00ff"/><stop offset="1.000" stop-color="#cf00ff"/></linearGradient><linearGradient id="c75" gradientUnits="userSpaceOnUse" x1="143" y1="0" x2="225" y2="0"><stop offset="0.000" stop-color="#001cff"/><stop offset="0.171" stop-color="#0200ff"/><stop offset="0.244" stop-color="#2700ff"/><stop offset="0.415" stop-color="#5700ff"/><stop offset="1.000" stop-color="#cb00ff"/></linearGradient><linearGradient id="c76" gradientUnits="userSpaceOnUse" x1="144" y1="0" x2="223" y2="0"><stop offset="0.000" stop-color="#0018ff"/><stop offset="0.165" stop-color="#0000ff"/><stop offset="0.241" stop-color="#2600ff"/><stop offset="0.405" stop-color="#5300ff"/><stop offset="1.000" stop-color="#c400ff"/></linearGradient><linearGradient id="c77" gradientUnits="userSpaceOnUse" x1="145" y1="0" x2="222" y2="0"><stop offset="0.000" stop-color="#0014ff"/><stop offset="0.104" stop-color="#0000ff"/><stop offset="0.156" stop-color="#0000ff"/><stop offset="0.234" stop-color="#2400ff"/><stop offset="0.403" stop-color="#5100ff"/><stop offset="1.000" stop-color="#bf00ff"/></linearGradient><linearGradient id="c78" gradientUnits="userSpaceOnUse" x1="147" y1="0" x2="220" y2="0"><stop offset="0.000" stop-color="#000dff"/><stop offset="0.068" stop-color="#0000ff"/><stop offset="0.137" stop-color="#0000ff"/><stop offset="0.233" stop-color="#2700ff"/><stop offset="0.397" stop-color="#5000ff"/><stop offset="1.000" stop-color="#b900ff"/></linearGradient><linearGradient id="c79" gradientUnits="userSpaceOnUse" x1="148" y1="0" x2="218" y2="0"><stop offset="0.000" stop-color="#0007ff"/><stop offset="0.029" stop-color="#0000ff"/><stop offset="0.143" stop-color="#0100ff"/><stop offset="0.229" stop-color="#2500ff"/><stop offset="0.400" stop-color="#4e00ff"/><stop offset="1.000" stop-color="#b200ff"/></linearGradient><linearGradient id="c80" gradientUnits="userSpaceOnUse" x1="149" y1="0" x2="217" y2="0"><stop offset="0.000" stop-color="#0000ff"/><stop offset="0.132" stop-color="#0000ff"/><stop offset="0.206" stop-color="#2000ff"/><stop offset="0.382" stop-color="#4a00ff"/><stop offset="1.000" stop-color="#ae00ff"/></linearGradient><linearGradient id="c81" gradientUnits="userSpaceOnUse" x1="151" y1="0" x2="215" y2="0"><stop offset="0.000" stop-color="#0000ff"/><stop offset="0.109" stop-color="#0000ff"/><stop offset="0.203" stop-color="#2300ff"/><stop offset="0.375" stop-color="#4800ff"/><stop offset="1.000" stop-color="#a800ff"/></linearGradient><linearGradient id="c82" gradientUnits="userSpaceOnUse" x1="152" y1="0" x2="214" y2="0"><stop offset="0.000" stop-color="#0000ff"/><stop offset="0.097" stop-color="#0000ff"/><stop offset="0.194" stop-color="#2100ff"/><stop offset="0.371" stop-color="#4700ff"/><stop offset="1.000" stop-color="#a400ff"/></linearGradient><linearGradient id="c83" gradientUnits="userSpaceOnUse" x1="153" y1="0" x2="212" y2="0"><stop offset="0.000" stop-color="#0000ff"/><stop offset="0.102" stop-color="#0100ff"/><stop offset="0.186" stop-color="#2000ff"/><stop offset="0.373" stop-color="#4600ff"/><stop offset="1.000" stop-color="#9e00ff"/></linearGradient><linearGradient id="c84" gradientUnits="userSpaceOnUse" x1="155" y1="0" x2="211" y2="0"><stop offset="0.000" stop-color="#0000ff"/><stop offset="0.071" stop-color="#0000ff"/><stop offset="0.179" stop-color="#2300ff"/><stop offset="0.429" stop-color="#5000ff"/><stop offset="1.000" stop-color="#9a00ff"/></linearGradient><linearGradient id="c85" gradientUnits="userSpaceOnUse" x1="156" y1="0" x2="209" y2="0"><stop offset="0.000" stop-color="#0000ff"/><stop offset="0.057" stop-color="#0000ff"/><stop offset="0.170" stop-color="#2100ff"/><stop offset="0.396" stop-color="#4900ff"/><stop offset="1.000" stop-color="#9400ff"/></linearGradient><linearGradient id="c86" gradientUnits="userSpaceOnUse" x1="158" y1="0" x2="208" y2="0"><stop offset="0.000" stop-color="#0000ff"/><stop offset="0.160" stop-color="#2400ff"/><stop offset="0.340" stop-color="#4200ff"/><stop offset="1.000" stop-color="#9000ff"/></linearGradient><linearGradient id="c87" gradientUnits="userSpaceOnUse" x1="159" y1="0" x2="206" y2="0"><stop offset="0.000" stop-color="#0000ff"/><stop offset="0.021" stop-color="#0000ff"/><stop offset="0.128" stop-color="#1f00ff"/><stop offset="0.319" stop-color="#3d00ff"/><stop offset="1.000" stop-color="#8a00ff"/></linearGradient><linearGradient id="c88" gradientUnits="userSpaceOnUse" x1="161" y1="0" x2="205" y2="0"><stop offset="0.000" stop-color="#0900ff"/><stop offset="0.114" stop-color="#2200ff"/><stop offset="0.318" stop-color="#3f00ff"/><stop offset="1.000" stop-color="#8600ff"/></linearGradient><linearGradient id="c89" gradientUnits="userSpaceOnUse" x1="163" y1="0" x2="203" y2="0"><stop offset="0.000" stop-color="#1300ff"/><stop offset="0.350" stop-color="#4400ff"/><stop offset="1.000" stop-color="#8100ff"/></linearGradient><linearGradient id="c90" gradientUnits="userSpaceOnUse" x1="165" y1="0" x2="202" y2="0"><stop offset="0.000" stop-color="#1b00ff"/><stop offset="0.378" stop-color="#4800ff"/><stop offset="1.000" stop-color="#7d00ff"/></linearGradient><linearGradient id="c91" gradientUnits="userSpaceOnUse" x1="166" y1="0" x2="200" y2="0"><stop offset="0.000" stop-color="#1e00ff"/><stop offset="0.382" stop-color="#4600ff"/><stop offset="1.000" stop-color="#7700ff"/></linearGradient><linearGradient id="c92" gradientUnits="userSpaceOnUse" x1="168" y1="0" x2="198" y2="0"><stop offset="0.000" stop-color="#2400ff"/><stop offset="1.000" stop-color="#7200ff"/></linearGradient><linearGradient id="c93" gradientUnits="userSpaceOnUse" x1="170" y1="0" x2="197" y2="0"><stop offset="0.000" stop-color="#2a00ff"/><stop offset="1.000" stop-color="#6e00ff"/></linearGradient><linearGradient id="c94" gradientUnits="userSpaceOnUse" x1="172" y1="0" x2="195" y2="0"><stop offset="0.000" stop-color="#2f00ff"/><stop offset="1.000" stop-color="#6800ff"/></linearGradient><linearGradient id="c95" gradientUnits="userSpaceOnUse" x1="174" y1="0" x2="194" y2="0"><stop offset="0.000" stop-color="#3400ff"/><stop offset="1.000" stop-color="#6500ff"/></linearGradient><linearGradient id="c96" gradientUnits="userSpaceOnUse" x1="176" y1="0" x2="192" y2="0"><stop offset="0.000" stop-color="#3900ff"/><stop offset="1.000" stop-color="#5f00ff"/></linearGradient><linearGradient id="c97" gradientUnits="userSpaceOnUse" x1="178" y1="0" x2="191" y2="0"><stop offset="0.000" stop-color="#3d00ff"/><stop offset="1.000" stop-color="#5c00ff"/></linearGradient><linearGradient id="c98" gradientUnits="userSpaceOnUse" x1="180" y1="0" x2="189" y2="0"><stop offset="0.000" stop-color="#4100ff"/><stop offset="1.000" stop-color="#5600ff"/></linearGradient><linearGradient id="c99" gradientUnits="userSpaceOnUse" x1="182" y1="0" x2="188" y2="0"><stop offset="0.000" stop-color="#4500ff"/><stop offset="1.000" stop-color="#5300ff"/></linearGradient><clipPath id="loc"><path d="M185.7,225.8 L185.3,226.0 L184.0,225.7 L181.9,223.7 L177.8,219.4 L171.2,212.5 L166.7,207.7 L161.1,201.4 L154.5,192.8 L145.6,179.3 L135.2,160.8 L123.9,137.8 L113.0,112.9 L104.5,89.1 L98.7,68.9 L95.7,54.0 L95.0,43.6 L96.1,36.4 L98.9,31.9 L102.7,29.6 L107.3,28.7 L112.3,28.5 L117.3,28.6 L122.6,28.9 L128.3,29.4 L134.5,30.1 L141.3,31.0 L148.9,32.0 L157.2,33.2 L166.4,34.5 L176.6,36.0 L187.6,37.6 L199.6,39.3 L212.2,41.2 L225.2,43.1 L237.7,44.9 L250.0,46.7 L261.1,48.3 L279.2,50.9 L292.1,52.8 L301.5,54.2 L307.7,55.1 L311.4,55.6 L314.6,56.1 L315.8,56.3Z"/></clipPath><clipPath id="cbox"><rect x="94.5" y="23.6" width="212.7" height="207.9"/></clipPath><linearGradient id="g0" x1="0" y1="0" x2="0" y2="1"><stop offset="0" stop-color="#fff"/><stop offset="1" stop-color="#e9ecf2"/></linearGradient><linearGradient id="g1" x1="0" y1="0" x2="0" y2="1"><stop offset="0" stop-color="#d7d7d7"/><stop offset="1" stop-color="#8c8c8c"/></linearGradient><linearGradient id="g2" x1="0" y1="0" x2="0" y2="1"><stop offset="0" stop-color="#d70a0a"/><stop offset="1" stop-color="#960000"/></linearGradient><linearGradient id="g3" x1="0" y1="0" x2="0" y2="1"><stop offset="0" stop-color="#008200"/><stop offset="1" stop-color="#004600"/></linearGradient><linearGradient id="g4" x1="0" y1="0" x2="0" y2="1"><stop offset="0" stop-color="#bebec8"/><stop offset="1" stop-color="#9696a0"/></linearGradient><linearGradient id="g5" x1="0" y1="0" x2="0" y2="1"><stop offset="0" stop-color="#28c8d2"/><stop offset="1" stop-color="#008c96"/></linearGradient><linearGradient id="g6" x1="0" y1="0" x2="0" y2="1"><stop offset="0" stop-color="#d200d2"/><stop offset="1" stop-color="#8c008c"/></linearGradient><linearGradient id="g7" x1="0" y1="0" x2="0" y2="1"><stop offset="0" stop-color="#d7d714"/><stop offset="1" stop-color="#969600"/></linearGradient><linearGradient id="g8" x1="0" y1="0" x2="0" y2="1"><stop offset="0" stop-color="#c8c8c8"/><stop offset="1" stop-color="#969696"/></linearGradient><linearGradient id="g9" x1="0" y1="0" x2="0" y2="1"><stop offset="0" stop-color="#000000"/><stop offset="1" stop-color="#000000"/></linearGradient><linearGradient id="g10" x1="0" y1="0" x2="0" y2="1"><stop offset="0" stop-color="#ebebeb"/><stop offset="1" stop-color="#808080"/></linearGradient><linearGradient id="g11" x1="0" y1="0" x2="0" y2="1"><stop offset="0" stop-color="#b49796"/><stop offset="1" stop-color="#625252"/></linearGradient><linearGradient id="g12" x1="0" y1="0" x2="0" y2="1"><stop offset="0" stop-color="#97b29b"/><stop offset="1" stop-color="#526154"/></linearGradient><linearGradient id="g13" x1="0" y1="0" x2="0" y2="1"><stop offset="0" stop-color="#9191b4"/><stop offset="1" stop-color="#4f4f62"/></linearGradient><linearGradient id="g14" x1="0" y1="0" x2="0" y2="1"><stop offset="0" stop-color="#97b5b8"/><stop offset="1" stop-color="#526264"/></linearGradient><linearGradient id="g15" x1="0" y1="0" x2="0" y2="1"><stop offset="0" stop-color="#b493b4"/><stop offset="1" stop-color="#625062"/></linearGradient><linearGradient id="g16" x1="0" y1="0" x2="0" y2="1"><stop offset="0" stop-color="#b7b797"/><stop offset="1" stop-color="#646452"/></linearGradient><linearGradient id="g17" x1="0" y1="0" x2="0" y2="1"><stop offset="0" stop-color="#b57a79"/><stop offset="1" stop-color="#624242"/></linearGradient><linearGradient id="g18" x1="0" y1="0" x2="0" y2="1"><stop offset="0" stop-color="#7ab282"/><stop offset="1" stop-color="#426046"/></linearGradient><linearGradient id="g19" x1="0" y1="0" x2="0" y2="1"><stop offset="0" stop-color="#6f6fb5"/><stop offset="1" stop-color="#3c3c62"/></linearGradient><linearGradient id="g20" x1="0" y1="0" x2="0" y2="1"><stop offset="0" stop-color="#7ab7bd"/><stop offset="1" stop-color="#426466"/></linearGradient><linearGradient id="g21" x1="0" y1="0" x2="0" y2="1"><stop offset="0" stop-color="#b573b5"/><stop offset="1" stop-color="#623e62"/></linearGradient><linearGradient id="g22" x1="0" y1="0" x2="0" y2="1"><stop offset="0" stop-color="#bbbb7a"/><stop offset="1" stop-color="#666642"/></linearGradient><linearGradient id="g23" x1="0" y1="0" x2="0" y2="1"><stop offset="0" stop-color="#b65e5b"/><stop offset="1" stop-color="#633332"/></linearGradient><linearGradient id="g24" x1="0" y1="0" x2="0" y2="1"><stop offset="0" stop-color="#5eb169"/><stop offset="1" stop-color="#336039"/></linearGradient><linearGradient id="g25" x1="0" y1="0" x2="0" y2="1"><stop offset="0" stop-color="#4d4db6"/><stop offset="1" stop-color="#2a2a63"/></linearGradient><linearGradient id="g26" x1="0" y1="0" x2="0" y2="1"><stop offset="0" stop-color="#5eb9c1"/><stop offset="1" stop-color="#336469"/></linearGradient><linearGradient id="g27" x1="0" y1="0" x2="0" y2="1"><stop offset="0" stop-color="#b653b6"/><stop offset="1" stop-color="#632d63"/></linearGradient><linearGradient id="g28" x1="0" y1="0" x2="0" y2="1"><stop offset="0" stop-color="#bebe5e"/><stop offset="1" stop-color="#686833"/></linearGradient><linearGradient id="g29" x1="0" y1="0" x2="0" y2="1"><stop offset="0" stop-color="#b7413e"/><stop offset="1" stop-color="#642422"/></linearGradient><linearGradient id="g30" x1="0" y1="0" x2="0" y2="1"><stop offset="0" stop-color="#41b050"/><stop offset="1" stop-color="#24602c"/></linearGradient><linearGradient id="g31" x1="0" y1="0" x2="0" y2="1"><stop offset="0" stop-color="#2b2bb7"/><stop offset="1" stop-color="#171764"/></linearGradient><linearGradient id="g32" x1="0" y1="0" x2="0" y2="1"><stop offset="0" stop-color="#41bbc6"/><stop offset="1" stop-color="#24666c"/></linearGradient><linearGradient id="g33" x1="0" y1="0" x2="0" y2="1"><stop offset="0" stop-color="#b733b7"/><stop offset="1" stop-color="#641b64"/></linearGradient><linearGradient id="g34" x1="0" y1="0" x2="0" y2="1"><stop offset="0" stop-color="#c2c241"/><stop offset="1" stop-color="#6a6a24"/></linearGradient><linearGradient id="g35" x1="0" y1="0" x2="0" y2="1"><stop offset="0" stop-color="#b82520"/><stop offset="1" stop-color="#641412"/></linearGradient><linearGradient id="g36" x1="0" y1="0" x2="0" y2="1"><stop offset="0" stop-color="#25af37"/><stop offset="1" stop-color="#145f1e"/></linearGradient><linearGradient id="g37" x1="0" y1="0" x2="0" y2="1"><stop offset="0" stop-color="#0909b8"/><stop offset="1" stop-color="#050564"/></linearGradient><linearGradient id="g38" x1="0" y1="0" x2="0" y2="1"><stop offset="0" stop-color="#25bdca"/><stop offset="1" stop-color="#14666e"/></linearGradient><linearGradient id="g39" x1="0" y1="0" x2="0" y2="1"><stop offset="0" stop-color="#b812b8"/><stop offset="1" stop-color="#640a64"/></linearGradient><linearGradient id="g40" x1="0" y1="0" x2="0" y2="1"><stop offset="0" stop-color="#c6c625"/><stop offset="1" stop-color="#6c6c14"/></linearGradient><linearGradient id="g41" x1="0" y1="0" x2="0" y2="1"><stop offset="0" stop-color="#050505"/><stop offset="1" stop-color="#020202"/></linearGradient><linearGradient id="g42" x1="0" y1="0" x2="0" y2="1"><stop offset="0" stop-color="#262626"/><stop offset="1" stop-color="#0f0f0f"/></linearGradient><linearGradient id="g43" x1="0" y1="0" x2="0" y2="1"><stop offset="0" stop-color="#424242"/><stop offset="0.157" stop-color="#3f3f3f"/><stop offset="0.578" stop-color="#2c2c2c"/><stop offset="1" stop-color="#181818"/></linearGradient><linearGradient id="g44" x1="0" y1="0" x2="0" y2="1"><stop offset="0" stop-color="#525252"/><stop offset="0.193" stop-color="#4e4e4e"/><stop offset="0.596" stop-color="#363636"/><stop offset="1" stop-color="#1e1e1e"/></linearGradient><linearGradient id="g45" x1="0" y1="0" x2="0" y2="1"><stop offset="0" stop-color="#707070"/><stop offset="0.3" stop-color="#6a6a6a"/><stop offset="0.65" stop-color="#4a4a4a"/><stop offset="1" stop-color="#282828"/></linearGradient><linearGradient id="g46" x1="0" y1="0" x2="0" y2="1"><stop offset="0" stop-color="#949494"/><stop offset="0.43" stop-color="#8d8d8d"/><stop offset="0.715" stop-color="#626262"/><stop offset="1" stop-color="#353535"/></linearGradient><linearGradient id="g47" x1="0" y1="0" x2="0" y2="1"><stop offset="0" stop-color="#a8a8a8"/><stop offset="0.459" stop-color="#a0a0a0"/><stop offset="0.729" stop-color="#6f6f6f"/><stop offset="1" stop-color="#3c3c3c"/></linearGradient><linearGradient id="g48" x1="0" y1="0" x2="0" y2="1"><stop offset="0" stop-color="#bababa"/><stop offset="0.468" stop-color="#b1b1b1"/><stop offset="0.734" stop-color="#7b7b7b"/><stop offset="1" stop-color="#434343"/></linearGradient><linearGradient id="g49" x1="0" y1="0" x2="0" y2="1"><stop offset="0" stop-color="#d4d4d4"/><stop offset="0.538" stop-color="#c9c9c9"/><stop offset="0.769" stop-color="#8c8c8c"/><stop offset="1" stop-color="#4c4c4c"/></linearGradient><linearGradient id="g50" x1="0" y1="0" x2="0" y2="1"><stop offset="0" stop-color="#e9e9e9"/><stop offset="0.542" stop-color="#dddddd"/><stop offset="0.771" stop-color="#9a9a9a"/><stop offset="1" stop-color="#545454"/></linearGradient><linearGradient id="g51" x1="0" y1="0" x2="0" y2="1"><stop offset="0" stop-color="#fdfdfd"/><stop offset="0.482" stop-color="#f0f0f0"/><stop offset="0.741" stop-color="#a7a7a7"/><stop offset="1" stop-color="#5b5b5b"/></linearGradient><linearGradient id="g52" x1="0" y1="0" x2="0" y2="1"><stop offset="0" stop-color="#0e0e0e"/><stop offset="0.5" stop-color="#0d0d0d"/><stop offset="1" stop-color="#0c0c0c"/></linearGradient><linearGradient id="g53" x1="0" y1="0" x2="0" y2="1"><stop offset="0" stop-color="#3b3b3b"/><stop offset="0.5" stop-color="#383838"/><stop offset="1" stop-color="#323232"/></linearGradient><linearGradient id="g54" x1="0" y1="0" x2="0" y2="1"><stop offset="0" stop-color="#4f4f4f"/><stop offset="0.5" stop-color="#4c4c4c"/><stop offset="1" stop-color="#444444"/></linearGradient><linearGradient id="g55" x1="0" y1="0" x2="0" y2="1"><stop offset="0" stop-color="#646464"/><stop offset="0.5" stop-color="#606060"/><stop offset="1" stop-color="#565656"/></linearGradient><linearGradient id="g56" x1="0" y1="0" x2="0" y2="1"><stop offset="0" stop-color="#797979"/><stop offset="0.5" stop-color="#747474"/><stop offset="1" stop-color="#686868"/></linearGradient><linearGradient id="g57" x1="0" y1="0" x2="0" y2="1"><stop offset="0" stop-color="#8d8d8d"/><stop offset="0.5" stop-color="#888888"/><stop offset="1" stop-color="#797979"/></linearGradient><linearGradient id="g58" x1="0" y1="0" x2="0" y2="1"><stop offset="0" stop-color="#a2a2a2"/><stop offset="0.5" stop-color="#9b9b9b"/><stop offset="1" stop-color="#8b8b8b"/></linearGradient><linearGradient id="g59" x1="0" y1="0" x2="0" y2="1"><stop offset="0" stop-color="#b7b7b7"/><stop offset="0.5" stop-color="#afafaf"/><stop offset="1" stop-color="#9d9d9d"/></linearGradient><linearGradient id="g60" x1="0" y1="0" x2="0" y2="1"><stop offset="0" stop-color="#cbcbcb"/><stop offset="0.5" stop-color="#c3c3c3"/><stop offset="1" stop-color="#afafaf"/></linearGradient><linearGradient id="g61" x1="0" y1="0" x2="0" y2="1"><stop offset="0" stop-color="#e0e0e0"/><stop offset="0.5" stop-color="#d7d7d7"/><stop offset="1" stop-color="#c1c1c1"/></linearGradient><linearGradient id="g62" x1="0" y1="0" x2="0" y2="1"><stop offset="0" stop-color="#f5f5f5"/><stop offset="0.5" stop-color="#ebebeb"/><stop offset="1" stop-color="#d2d2d2"/></linearGradient></defs>
<rect width="770" height="450" fill="#fff"/>
<g clip-path="url(#cbox)"><g clip-path="url(#loc)">
<rect x="104" y="27" width="21" height="2.6" fill="url(#c0)"/>
<rect x="99" y="29" width="44" height="2.6" fill="url(#c1)"/>
<rect x="97" y="31" width="60" height="2.6" fill="url(#c2)"/>
<rect x="95" y="33" width="76" height="2.6" fill="url(#c3)"/>
<rect x="95" y="35" width="90" height="2.6" fill="url(#c4)"/>
<rect x="94" y="37" width="105" height="2.6" fill="url(#c5)"/>
<rect x="94" y="39" width="119" height="2.6" fill="url(#c6)"/>
<rect x="94" y="41" width="132" height="2.6" fill="url(#c7)"/>
<rect x="94" y="43" width="146" height="2.6" fill="url(#c8)"/>
<rect x="94" y="45" width="160" height="2.6" fill="url(#c9)"/>
<rect x="94" y="47" width="174" height="2.6" fill="url(#c10)"/>
<rect x="94" y="49" width="187" height="2.6" fill="url(#c11)"/>
<rect x="94" y="51" width="201" height="2.6" fill="url(#c12)"/>
<rect x="94" y="53" width="213" height="2.6" fill="url(#c13)"/>
<rect x="94" y="55" width="213" height="2.6" fill="url(#c14)"/>
<rect x="95" y="57" width="212" height="2.6" fill="url(#c15)"/>
<rect x="95" y="59" width="212" height="2.6" fill="url(#c16)"/>
<rect x="96" y="61" width="211" height="2.6" fill="url(#c17)"/>
<rect x="96" y="63" width="211" height="2.6" fill="url(#c18)"/>
<rect x="96" y="65" width="211" height="2.6" fill="url(#c19)"/>
<rect x="97" y="67" width="210" height="2.6" fill="url(#c20)"/>
<rect x="97" y="69" width="210" height="2.6" fill="url(#c21)"/>
<rect x="98" y="71" width="208" height="2.6" fill="url(#c22)"/>
<rect x="98" y="73" width="206" height="2.6" fill="url(#c23)"/>
<rect x="99" y="75" width="204" height="2.6" fill="url(#c24)"/>
<rect x="100" y="77" width="201" height="2.6" fill="url(#c25)"/>
<rect x="100" y="79" width="200" height="2.6" fill="url(#c26)"/>
<rect x="101" y="81" width="197" height="2.6" fill="url(#c27)"/>
<rect x="101" y="83" width="196" height="2.6" fill="url(#c28)"/>
<rect x="102" y="85" width="193" height="2.6" fill="url(#c29)"/>
<rect x="102" y="87" width="192" height="2.6" fill="url(#c30)"/>
<rect x="103" y="89" width="189" height="2.6" fill="url(#c31)"/>
<rect x="104" y="91" width="187" height="2.6" fill="url(#c32)"/>
<rect x="104" y="93" width="185" height="2.6" fill="url(#c33)"/>
<rect x="105" y="95" width="183" height="2.6" fill="url(#c34)"/>
<rect x="106" y="97" width="180" height="2.6" fill="url(#c35)"/>
<rect x="107" y="99" width="177" height="2.6" fill="url(#c36)"/>
<rect x="107" y="101" width="176" height="2.6" fill="url(#c37)"/>
<rect x="108" y="103" width="173" height="2.6" fill="url(#c38)"/>
<rect x="109" y="105" width="171" height="2.6" fill="url(#c39)"/>
<rect x="109" y="107" width="169" height="2.6" fill="url(#c40)"/>
<rect x="110" y="109" width="167" height="2.6" fill="url(#c41)"/>
<rect x="111" y="111" width="164" height="2.6" fill="url(#c42)"/>
<rect x="112" y="113" width="162" height="2.6" fill="url(#c43)"/>
<rect x="112" y="115" width="160" height="2.6" fill="url(#c44)"/>
<rect x="113" y="117" width="158" height="2.6" fill="url(#c45)"/>
<rect x="114" y="119" width="155" height="2.6" fill="url(#c46)"/>
<rect x="115" y="121" width="153" height="2.6" fill="url(#c47)"/>
<rect x="116" y="123" width="150" height="2.6" fill="url(#c48)"/>
<rect x="117" y="125" width="148" height="2.6" fill="url(#c49)"/>
<rect x="118" y="127" width="145" height="2.6" fill="url(#c50)"/>
<rect x="119" y="129" width="142" height="2.6" fill="url(#c51)"/>
<rect x="119" y="131" width="141" height="2.6" fill="url(#c52)"/>
<rect x="120" y="133" width="138" height="2.6" fill="url(#c53)"/>
<rect x="121" y="135" width="136" height="2.6" fill="url(#c54)"/>
<rect x="122" y="137" width="133" height="2.6" fill="url(#c55)"/>
<rect x="123" y="139" width="131" height="2.6" fill="url(#c56)"/>
<rect x="124" y="141" width="128" height="2.6" fill="url(#c57)"/>
<rect x="125" y="143" width="126" height="2.6" fill="url(#c58)"/>
<rect x="126" y="145" width="123" height="2.6" fill="url(#c59)"/>
<rect x="127" y="147" width="121" height="2.6" fill="url(#c60)"/>
<rect x="128" y="149" width="118" height="2.6" fill="url(#c61)"/>
<rect x="129" y="151" width="116" height="2.6" fill="url(#c62)"/>
<rect x="130" y="153" width="113" height="2.6" fill="url(#c63)"/>
<rect x="131" y="155" width="110" height="2.6" fill="url(#c64)"/>
<rect x="132" y="157" width="108" height="2.6" fill="url(#c65)"/>
<rect x="133" y="159" width="105" height="2.6" fill="url(#c66)"/>
<rect x="134" y="161" width="103" height="2.6" fill="url(#c67)"/>
<rect x="135" y="163" width="100" height="2.6" fill="url(#c68)"/>
<rect x="136" y="165" width="98" height="2.6" fill="url(#c69)"/>
<rect x="137" y="167" width="95" height="2.6" fill="url(#c70)"/>
<rect x="138" y="169" width="93" height="2.6" fill="url(#c71)"/>
<rect x="139" y="171" width="90" height="2.6" fill="url(#c72)"/>
<rect x="141" y="173" width="87" height="2.6" fill="url(#c73)"/>
<rect x="142" y="175" width="84" height="2.6" fill="url(#c74)"/>
<rect x="143" y="177" width="82" height="2.6" fill="url(#c75)"/>
<rect x="144" y="179" width="79" height="2.6" fill="url(#c76)"/>
<rect x="145" y="181" width="77" height="2.6" fill="url(#c77)"/>
<rect x="147" y="183" width="73" height="2.6" fill="url(#c78)"/>
<rect x="148" y="185" width="70" height="2.6" fill="url(#c79)"/>
<rect x="149" y="187" width="68" height="2.6" fill="url(#c80)"/>
<rect x="151" y="189" width="64" height="2.6" fill="url(#c81)"/>
<rect x="152" y="191" width="62" height="2.6" fill="url(#c82)"/>
<rect x="153" y="193" width="59" height="2.6" fill="url(#c83)"/>
<rect x="155" y="195" width="56" height="2.6" fill="url(#c84)"/>
<rect x="156" y="197" width="53" height="2.6" fill="url(#c85)"/>
<rect x="158" y="199" width="50" height="2.6" fill="url(#c86)"/>
<rect x="159" y="201" width="47" height="2.6" fill="url(#c87)"/>
<rect x="161" y="203" width="44" height="2.6" fill="url(#c88)"/>
<rect x="163" y="205" width="40" height="2.6" fill="url(#c89)"/>
<rect x="165" y="207" width="37" height="2.6" fill="url(#c90)"/>
<rect x="166" y="209" width="34" height="2.6" fill="url(#c91)"/>
<rect x="168" y="211" width="30" height="2.6" fill="url(#c92)"/>
<rect x="170" y="213" width="27" height="2.6" fill="url(#c93)"/>
<rect x="172" y="215" width="23" height="2.6" fill="url(#c94)"/>
<rect x="174" y="217" width="20" height="2.6" fill="url(#c95)"/>
<rect x="176" y="219" width="16" height="2.6" fill="url(#c96)"/>
<rect x="178" y="221" width="13" height="2.6" fill="url(#c97)"/>
<rect x="180" y="223" width="9" height="2.6" fill="url(#c98)"/>
<rect x="182" y="225" width="6" height="2.6" fill="url(#c99)"/>
<path d="M80,10 H320 V240 H80Z M254.5,50.6 L138.9,36.9 L156.8,176.9Z" fill="#000" fill-opacity="0.40" fill-rule="evenodd"/>
</g></g>
<rect x="94.5" y="23.6" width="212.7" height="207.9" fill="none" stroke="#c8c8c8" stroke-width="1" />
<text transform="translate(193.9,21.6) scale(0.86,1)" font-size="7.19" text-anchor="middle" fill="#505050" >CIE 1976 u'v'</text>
<line x1="91.5" y1="231.5" x2="94.5" y2="231.5" stroke="#999" stroke-width="0.8" />
<text transform="translate(91.3,233.8) scale(0.86,1)" font-size="6.96" text-anchor="end" fill="#5a5a5a" >0</text>
<line x1="91.5" y1="214.2" x2="94.5" y2="214.2" stroke="#999" stroke-width="0.8" />
<text transform="translate(91.3,216.5) scale(0.86,1)" font-size="6.96" text-anchor="end" fill="#5a5a5a" >0,05</text>
<line x1="91.5" y1="196.8" x2="94.5" y2="196.8" stroke="#999" stroke-width="0.8" />
<text transform="translate(91.3,199.2) scale(0.86,1)" font-size="6.96" text-anchor="end" fill="#5a5a5a" >0,1</text>
<line x1="91.5" y1="179.5" x2="94.5" y2="179.5" stroke="#999" stroke-width="0.8" />
<text transform="translate(91.3,181.8) scale(0.86,1)" font-size="6.96" text-anchor="end" fill="#5a5a5a" >0,15</text>
<line x1="91.5" y1="162.2" x2="94.5" y2="162.2" stroke="#999" stroke-width="0.8" />
<text transform="translate(91.3,164.5) scale(0.86,1)" font-size="6.96" text-anchor="end" fill="#5a5a5a" >0,2</text>
<line x1="91.5" y1="144.9" x2="94.5" y2="144.9" stroke="#999" stroke-width="0.8" />
<text transform="translate(91.3,147.2) scale(0.86,1)" font-size="6.96" text-anchor="end" fill="#5a5a5a" >0,25</text>
<line x1="91.5" y1="127.5" x2="94.5" y2="127.5" stroke="#999" stroke-width="0.8" />
<text transform="translate(91.3,129.8) scale(0.86,1)" font-size="6.96" text-anchor="end" fill="#5a5a5a" >0,3</text>
<line x1="91.5" y1="110.2" x2="94.5" y2="110.2" stroke="#999" stroke-width="0.8" />
<text transform="translate(91.3,112.5) scale(0.86,1)" font-size="6.96" text-anchor="end" fill="#5a5a5a" >0,35</text>
<line x1="91.5" y1="92.9" x2="94.5" y2="92.9" stroke="#999" stroke-width="0.8" />
<text transform="translate(91.3,95.2) scale(0.86,1)" font-size="6.96" text-anchor="end" fill="#5a5a5a" >0,4</text>
<line x1="91.5" y1="75.6" x2="94.5" y2="75.6" stroke="#999" stroke-width="0.8" />
<text transform="translate(91.3,77.9) scale(0.86,1)" font-size="6.96" text-anchor="end" fill="#5a5a5a" >0,45</text>
<line x1="91.5" y1="58.2" x2="94.5" y2="58.2" stroke="#999" stroke-width="0.8" />
<text transform="translate(91.3,60.5) scale(0.86,1)" font-size="6.96" text-anchor="end" fill="#5a5a5a" >0,5</text>
<line x1="91.5" y1="40.9" x2="94.5" y2="40.9" stroke="#999" stroke-width="0.8" />
<text transform="translate(91.3,43.2) scale(0.86,1)" font-size="6.96" text-anchor="end" fill="#5a5a5a" >0,55</text>
<line x1="94.5" y1="231.5" x2="94.5" y2="234.5" stroke="#999" stroke-width="0.8" />
<text transform="translate(94.5,240.9) scale(0.86,1)" font-size="7.42" text-anchor="middle" fill="#5a5a5a" >0</text>
<line x1="129.9" y1="231.5" x2="129.9" y2="234.5" stroke="#999" stroke-width="0.8" />
<text transform="translate(129.9,240.9) scale(0.86,1)" font-size="7.42" text-anchor="middle" fill="#5a5a5a" >0,1</text>
<line x1="165.4" y1="231.5" x2="165.4" y2="234.5" stroke="#999" stroke-width="0.8" />
<text transform="translate(165.4,240.9) scale(0.86,1)" font-size="7.42" text-anchor="middle" fill="#5a5a5a" >0,2</text>
<line x1="200.9" y1="231.5" x2="200.9" y2="234.5" stroke="#999" stroke-width="0.8" />
<text transform="translate(200.9,240.9) scale(0.86,1)" font-size="7.42" text-anchor="middle" fill="#5a5a5a" >0,3</text>
<line x1="236.3" y1="231.5" x2="236.3" y2="234.5" stroke="#999" stroke-width="0.8" />
<text transform="translate(236.3,240.9) scale(0.86,1)" font-size="7.42" text-anchor="middle" fill="#5a5a5a" >0,4</text>
<line x1="271.8" y1="231.5" x2="271.8" y2="234.5" stroke="#999" stroke-width="0.8" />
<text transform="translate(271.8,240.9) scale(0.86,1)" font-size="7.42" text-anchor="middle" fill="#5a5a5a" >0,5</text>
<path d="M249.5,46.9 L238.6,45.7 L229.4,45.0 L221.6,44.5 L214.9,44.4 L209.2,44.6 L204.3,45.0 L200.0,45.5 L196.3,46.3 L193.0,47.1 L190.2,48.0 L187.7,49.0 L185.4,50.0 L183.4,51.1 L181.7,52.1 L180.1,53.2 L178.6,54.2 L177.3,55.3 L176.2,56.3 L175.1,57.3 L174.4,58.0 L171.7,61.1 L169.6,63.9 L168.0,66.3 L166.7,68.5 L165.7,70.4 L164.8,72.2 L164.2,73.7 L163.6,75.0 L163.1,76.3 L162.7,77.4 L162.3,78.3 L162.0,79.2 L161.8,80.1 L161.5,80.8 L161.3,81.5 L161.2,82.1 L161.0,82.7 L160.9,83.2 L160.7,83.7 L160.6,84.2 L160.5,84.6 L160.4,85.0" fill="none" stroke="#111" stroke-width="1.3"/>
<line x1="160.9" y1="83.6" x2="159.4" y2="88.4" stroke="#111" stroke-width="1.2" />
<rect x="178.4" y="63.2" width="5.6" height="5.6" fill="none" stroke="#fff" stroke-width="0.9" opacity="0.9"/>
<rect x="195.6" y="59.6" width="5.6" height="5.6" fill="none" stroke="#fff" stroke-width="0.9" opacity="0.9"/>
<rect x="213.5" y="55.8" width="5.6" height="5.6" fill="none" stroke="#fff" stroke-width="0.9" opacity="0.9"/>
<rect x="232.2" y="51.9" width="5.6" height="5.6" fill="none" stroke="#fff" stroke-width="0.9" opacity="0.9"/>
<rect x="251.7" y="47.8" width="5.6" height="5.6" fill="none" stroke="#fff" stroke-width="0.9" opacity="0.9"/>
<rect x="154.8" y="57.7" width="5.6" height="5.6" fill="none" stroke="#fff" stroke-width="0.9" opacity="0.9"/>
<rect x="148.9" y="50.3" width="5.6" height="5.6" fill="none" stroke="#fff" stroke-width="0.9" opacity="0.9"/>
<rect x="144.0" y="44.0" width="5.6" height="5.6" fill="none" stroke="#fff" stroke-width="0.9" opacity="0.9"/>
<rect x="139.7" y="38.7" width="5.6" height="5.6" fill="none" stroke="#fff" stroke-width="0.9" opacity="0.9"/>
<rect x="136.1" y="34.1" width="5.6" height="5.6" fill="none" stroke="#fff" stroke-width="0.9" opacity="0.9"/>
<rect x="161.0" y="79.5" width="5.6" height="5.6" fill="none" stroke="#fff" stroke-width="0.9" opacity="0.9"/>
<rect x="159.8" y="95.1" width="5.6" height="5.6" fill="none" stroke="#fff" stroke-width="0.9" opacity="0.9"/>
<rect x="158.4" y="114.8" width="5.6" height="5.6" fill="none" stroke="#fff" stroke-width="0.9" opacity="0.9"/>
<rect x="156.5" y="140.1" width="5.6" height="5.6" fill="none" stroke="#fff" stroke-width="0.9" opacity="0.9"/>
<rect x="154.0" y="174.1" width="5.6" height="5.6" fill="none" stroke="#fff" stroke-width="0.9" opacity="0.9"/>
<rect x="157.6" y="67.6" width="5.6" height="5.6" fill="none" stroke="#fff" stroke-width="0.9" opacity="0.9"/>
<rect x="153.3" y="68.5" width="5.6" height="5.6" fill="none" stroke="#fff" stroke-width="0.9" opacity="0.9"/>
<rect x="149.1" y="69.4" width="5.6" height="5.6" fill="none" stroke="#fff" stroke-width="0.9" opacity="0.9"/>
<rect x="144.9" y="70.2" width="5.6" height="5.6" fill="none" stroke="#fff" stroke-width="0.9" opacity="0.9"/>
<rect x="140.8" y="71.1" width="5.6" height="5.6" fill="none" stroke="#fff" stroke-width="0.9" opacity="0.9"/>
<rect x="167.4" y="73.5" width="5.6" height="5.6" fill="none" stroke="#fff" stroke-width="0.9" opacity="0.9"/>
<rect x="173.6" y="81.4" width="5.6" height="5.6" fill="none" stroke="#fff" stroke-width="0.9" opacity="0.9"/>
<rect x="180.9" y="90.6" width="5.6" height="5.6" fill="none" stroke="#fff" stroke-width="0.9" opacity="0.9"/>
<rect x="189.6" y="101.5" width="5.6" height="5.6" fill="none" stroke="#fff" stroke-width="0.9" opacity="0.9"/>
<rect x="200.0" y="114.6" width="5.6" height="5.6" fill="none" stroke="#fff" stroke-width="0.9" opacity="0.9"/>
<rect x="162.5" y="59.5" width="5.6" height="5.6" fill="none" stroke="#fff" stroke-width="0.9" opacity="0.9"/>
<rect x="162.9" y="53.1" width="5.6" height="5.6" fill="none" stroke="#fff" stroke-width="0.9" opacity="0.9"/>
<rect x="163.4" y="47.3" width="5.6" height="5.6" fill="none" stroke="#fff" stroke-width="0.9" opacity="0.9"/>
<rect x="163.7" y="42.1" width="5.6" height="5.6" fill="none" stroke="#fff" stroke-width="0.9" opacity="0.9"/>
<rect x="164.1" y="37.4" width="5.6" height="5.6" fill="none" stroke="#fff" stroke-width="0.9" opacity="0.9"/>
<rect x="162.0" y="64.2" width="5.5" height="5.5" fill="none" stroke="#fff" stroke-width="0.9" opacity="0.9"/>
<rect x="161.2" y="68.2" width="5.5" height="5.5" fill="none" stroke="#fff" stroke-width="0.9" opacity="0.9"/>
<circle cx="182.7" cy="68.7" r="1.8" fill="none" stroke="#3a3a3a" stroke-width="0.7" opacity="0.85"/>
<circle cx="201.3" cy="62.4" r="1.8" fill="none" stroke="#3a3a3a" stroke-width="0.7" opacity="0.85"/>
<circle cx="218.7" cy="58.4" r="1.8" fill="none" stroke="#3a3a3a" stroke-width="0.7" opacity="0.85"/>
<circle cx="237.7" cy="55.0" r="1.8" fill="none" stroke="#3a3a3a" stroke-width="0.7" opacity="0.85"/>
<circle cx="256.0" cy="50.0" r="1.8" fill="none" stroke="#3a3a3a" stroke-width="0.7" opacity="0.85"/>
<circle cx="139.0" cy="37.0" r="1.8" fill="none" stroke="#3a3a3a" stroke-width="0.7" opacity="0.85"/>
<circle cx="141.3" cy="47.0" r="1.8" fill="none" stroke="#3a3a3a" stroke-width="0.7" opacity="0.85"/>
<circle cx="144.6" cy="52.3" r="1.8" fill="none" stroke="#3a3a3a" stroke-width="0.7" opacity="0.85"/>
<circle cx="149.7" cy="59.7" r="1.8" fill="none" stroke="#3a3a3a" stroke-width="0.7" opacity="0.85"/>
<circle cx="156.0" cy="65.7" r="1.8" fill="none" stroke="#3a3a3a" stroke-width="0.7" opacity="0.85"/>
<circle cx="147.2" cy="88.4" r="1.8" fill="none" stroke="#3a3a3a" stroke-width="0.7" opacity="0.85"/>
<circle cx="149.6" cy="83.0" r="1.8" fill="none" stroke="#3a3a3a" stroke-width="0.7" opacity="0.85"/>
<circle cx="152.7" cy="79.9" r="1.8" fill="none" stroke="#3a3a3a" stroke-width="0.7" opacity="0.85"/>
<circle cx="156.9" cy="78.8" r="1.8" fill="none" stroke="#3a3a3a" stroke-width="0.7" opacity="0.85"/>
<circle cx="160.8" cy="75.2" r="1.8" fill="none" stroke="#3a3a3a" stroke-width="0.7" opacity="0.85"/>
<circle cx="172.4" cy="83.4" r="1.8" fill="none" stroke="#3a3a3a" stroke-width="0.7" opacity="0.85"/>
<circle cx="179.7" cy="93.1" r="1.8" fill="none" stroke="#3a3a3a" stroke-width="0.7" opacity="0.85"/>
<circle cx="189.0" cy="101.2" r="1.8" fill="none" stroke="#3a3a3a" stroke-width="0.7" opacity="0.85"/>
<circle cx="199.7" cy="109.8" r="1.8" fill="none" stroke="#3a3a3a" stroke-width="0.7" opacity="0.85"/>
<circle cx="166.0" cy="40.7" r="1.8" fill="none" stroke="#3a3a3a" stroke-width="0.7" opacity="0.85"/>
<circle cx="165.7" cy="45.7" r="1.8" fill="none" stroke="#3a3a3a" stroke-width="0.7" opacity="0.85"/>
<circle cx="165.0" cy="51.7" r="1.8" fill="none" stroke="#3a3a3a" stroke-width="0.7" opacity="0.85"/>
<circle cx="164.6" cy="57.7" r="1.8" fill="none" stroke="#3a3a3a" stroke-width="0.7" opacity="0.85"/>
<circle cx="164.3" cy="65.7" r="1.8" fill="none" stroke="#3a3a3a" stroke-width="0.7" opacity="0.85"/>
<circle cx="165.6" cy="92.7" r="1.5" fill="none" stroke="#3a3a3a" stroke-width="0.7" opacity="0.55"/>
<circle cx="166.2" cy="112.2" r="1.5" fill="none" stroke="#3a3a3a" stroke-width="0.7" opacity="0.55"/>
<circle cx="166.2" cy="134.0" r="1.5" fill="none" stroke="#3a3a3a" stroke-width="0.7" opacity="0.55"/>
<circle cx="166.7" cy="160.7" r="1.5" fill="none" stroke="#3a3a3a" stroke-width="0.7" opacity="0.55"/>
<circle cx="212.0" cy="114.0" r="1.5" fill="none" stroke="#3a3a3a" stroke-width="0.7" opacity="0.55"/>
<circle cx="164.3" cy="69.5" r="2.2" fill="none" stroke="#3a3a3a" stroke-width="0.7" opacity="0.85"/>
<circle cx="163.2" cy="72.5" r="2.0" fill="none" stroke="#3a3a3a" stroke-width="0.7" opacity="0.85"/>
<circle cx="165.0" cy="74.2" r="2.2" fill="#fff" stroke="#111" stroke-width="0.7" opacity="0.85"/>
<circle cx="165.7" cy="88.0" r="2.1" fill="#000" stroke="#000" stroke-width="0.7" opacity="0.85"/>
<rect x="92.4" y="257.3" width="208.2" height="116.2" fill="none" stroke="#c4c4c4" stroke-width="1" />
<line x1="92.4" y1="344.3" x2="300.6" y2="344.3" stroke="#b2b2b2" stroke-width="1" />
<line x1="89.4" y1="344.3" x2="92.4" y2="344.3" stroke="#999" stroke-width="0.8" />
<text transform="translate(89.2,346.6) scale(0.86,1)" font-size="6.96" text-anchor="end" fill="#5a5a5a" >1</text>
<line x1="92.4" y1="313.3" x2="300.6" y2="313.3" stroke="#b2b2b2" stroke-width="1" />
<line x1="89.4" y1="313.3" x2="92.4" y2="313.3" stroke="#999" stroke-width="0.8" />
<text transform="translate(89.2,315.6) scale(0.86,1)" font-size="6.96" text-anchor="end" fill="#5a5a5a" >1,5</text>
<line x1="92.4" y1="282.3" x2="300.6" y2="282.3" stroke="#b2b2b2" stroke-width="1" />
<line x1="89.4" y1="282.3" x2="92.4" y2="282.3" stroke="#999" stroke-width="0.8" />
<text transform="translate(89.2,284.6) scale(0.86,1)" font-size="6.96" text-anchor="end" fill="#5a5a5a" >2</text>
<line x1="92.4" y1="373.5" x2="92.4" y2="376.5" stroke="#999" stroke-width="0.8" />
<text transform="translate(92.4,384.1) scale(0.86,1)" font-size="7.42" text-anchor="middle" fill="#5a5a5a" >0</text>
<line x1="113.2" y1="373.5" x2="113.2" y2="376.5" stroke="#999" stroke-width="0.8" />
<text transform="translate(113.2,384.1) scale(0.86,1)" font-size="7.42" text-anchor="middle" fill="#5a5a5a" >10</text>
<line x1="134.0" y1="373.5" x2="134.0" y2="376.5" stroke="#999" stroke-width="0.8" />
<text transform="translate(134.0,384.1) scale(0.86,1)" font-size="7.42" text-anchor="middle" fill="#5a5a5a" >20</text>
<line x1="154.9" y1="373.5" x2="154.9" y2="376.5" stroke="#999" stroke-width="0.8" />
<text transform="translate(154.9,384.1) scale(0.86,1)" font-size="7.42" text-anchor="middle" fill="#5a5a5a" >30</text>
<line x1="175.7" y1="373.5" x2="175.7" y2="376.5" stroke="#999" stroke-width="0.8" />
<text transform="translate(175.7,384.1) scale(0.86,1)" font-size="7.42" text-anchor="middle" fill="#5a5a5a" >40</text>
<line x1="196.5" y1="373.5" x2="196.5" y2="376.5" stroke="#999" stroke-width="0.8" />
<text transform="translate(196.5,384.1) scale(0.86,1)" font-size="7.42" text-anchor="middle" fill="#5a5a5a" >50</text>
<line x1="217.3" y1="373.5" x2="217.3" y2="376.5" stroke="#999" stroke-width="0.8" />
<text transform="translate(217.3,384.1) scale(0.86,1)" font-size="7.42" text-anchor="middle" fill="#5a5a5a" >60</text>
<line x1="238.1" y1="373.5" x2="238.1" y2="376.5" stroke="#999" stroke-width="0.8" />
<text transform="translate(238.1,384.1) scale(0.86,1)" font-size="7.42" text-anchor="middle" fill="#5a5a5a" >70</text>
<line x1="259.0" y1="373.5" x2="259.0" y2="376.5" stroke="#999" stroke-width="0.8" />
<text transform="translate(259.0,384.1) scale(0.86,1)" font-size="7.42" text-anchor="middle" fill="#5a5a5a" >80</text>
<line x1="279.8" y1="373.5" x2="279.8" y2="376.5" stroke="#999" stroke-width="0.8" />
<text transform="translate(279.8,384.1) scale(0.86,1)" font-size="7.42" text-anchor="middle" fill="#5a5a5a" >90</text>
<line x1="300.6" y1="373.5" x2="300.6" y2="376.5" stroke="#999" stroke-width="0.8" />
<text transform="translate(300.6,384.1) scale(0.86,1)" font-size="7.42" text-anchor="middle" fill="#5a5a5a" >100</text>
<path d="M92.4,360.3 L92.8,330.0 L93.3,312.0 L94.0,302.0 L94.9,296.6 L96.3,291.0 L98.0,287.3 L101.1,282.0 L104.0,279.0 L107.3,276.4 L113.5,273.9 L122.8,271.8 L135.3,270.5 L150.0,270.1 L163.3,269.9 L300.6,269.9" fill="none" stroke="#c9a43c" stroke-width="1.3" stroke-linejoin="round"/>
<path d="M92.4,360.3 L113.5,266.5 L134.3,264.3 L154.9,263.0 L175.7,260.9 L196.0,258.6 L217.0,257.6 L280.5,257.6 L300.6,269.3" fill="none" stroke="#7a7d8c" stroke-width="1.1" stroke-linejoin="round"/>
<rect x="119.5" y="245.5" width="143.2" height="15.6" fill="#fff" stroke="none" stroke-width="1" />
<text transform="translate(120.2,256.7) scale(1,0.95)" font-size="12.6" fill="#1a1a1a" textLength="103.2" lengthAdjust="spacingAndGlyphs">TotalGamma: 2,43</text>
<rect x="79.0" y="388.2" width="5.0" height="12.7" fill="#000" stroke="none" stroke-width="1" />
<rect x="84.0" y="388.2" width="217.0" height="12.7" fill="url(#g0)" stroke="none" stroke-width="1" />
<line x1="86.0" y1="400.9" x2="301.0" y2="400.9" stroke="#c8c8c8" stroke-width="0.8" />
<line x1="86.0" y1="411.6" x2="301.0" y2="411.6" stroke="#9a9a9a" stroke-width="0.9" />
<line x1="109.2" y1="401.5" x2="109.2" y2="411.6" stroke="#8a8a8a" stroke-width="0.9" />
<line x1="124.4" y1="401.5" x2="124.4" y2="411.6" stroke="#8a8a8a" stroke-width="0.9" />
<line x1="139.7" y1="401.5" x2="139.7" y2="411.6" stroke="#8a8a8a" stroke-width="0.9" />
<line x1="154.9" y1="401.5" x2="154.9" y2="411.6" stroke="#8a8a8a" stroke-width="0.9" />
<line x1="170.1" y1="401.5" x2="170.1" y2="411.6" stroke="#8a8a8a" stroke-width="0.9" />
<line x1="188.2" y1="401.5" x2="188.2" y2="411.6" stroke="#8a8a8a" stroke-width="0.9" />
<line x1="206.5" y1="401.5" x2="206.5" y2="411.6" stroke="#8a8a8a" stroke-width="0.9" />
<line x1="224.7" y1="401.5" x2="224.7" y2="411.6" stroke="#8a8a8a" stroke-width="0.9" />
<line x1="243.0" y1="401.5" x2="243.0" y2="411.6" stroke="#8a8a8a" stroke-width="0.9" />
<line x1="261.4" y1="401.5" x2="261.4" y2="411.6" stroke="#8a8a8a" stroke-width="0.9" />
<line x1="279.6" y1="401.5" x2="279.6" y2="411.6" stroke="#8a8a8a" stroke-width="0.9" />
<line x1="301.0" y1="401.5" x2="301.0" y2="411.6" stroke="#8a8a8a" stroke-width="0.9" />
<line x1="109.2" y1="389.0" x2="109.2" y2="400.5" stroke="#f4f5f8" stroke-width="0.8" />
<line x1="124.4" y1="389.0" x2="124.4" y2="400.5" stroke="#f4f5f8" stroke-width="0.8" />
<line x1="139.7" y1="389.0" x2="139.7" y2="400.5" stroke="#f4f5f8" stroke-width="0.8" />
<line x1="154.9" y1="389.0" x2="154.9" y2="400.5" stroke="#f4f5f8" stroke-width="0.8" />
<line x1="170.1" y1="389.0" x2="170.1" y2="400.5" stroke="#f4f5f8" stroke-width="0.8" />
<line x1="188.2" y1="389.0" x2="188.2" y2="400.5" stroke="#f4f5f8" stroke-width="0.8" />
<line x1="206.5" y1="389.0" x2="206.5" y2="400.5" stroke="#f4f5f8" stroke-width="0.8" />
<line x1="224.7" y1="389.0" x2="224.7" y2="400.5" stroke="#f4f5f8" stroke-width="0.8" />
<line x1="243.0" y1="389.0" x2="243.0" y2="400.5" stroke="#f4f5f8" stroke-width="0.8" />
<line x1="261.4" y1="389.0" x2="261.4" y2="400.5" stroke="#f4f5f8" stroke-width="0.8" />
<line x1="279.6" y1="389.0" x2="279.6" y2="400.5" stroke="#f4f5f8" stroke-width="0.8" />
<text transform="translate(112.4,397.0) scale(0.86,1)" font-size="7.19" text-anchor="start" fill="#555" >0</text>
<text transform="translate(116.8,408.9) scale(0.86,1)" font-size="6.84" text-anchor="middle" fill="#666" >0,15</text>
<text transform="translate(127.6,397.0) scale(0.86,1)" font-size="7.19" text-anchor="start" fill="#555" >10</text>
<text transform="translate(132.1,408.9) scale(0.86,1)" font-size="6.84" text-anchor="middle" fill="#666" >0,64</text>
<text transform="translate(142.9,397.0) scale(0.86,1)" font-size="7.19" text-anchor="start" fill="#555" >20</text>
<text transform="translate(147.3,408.9) scale(0.86,1)" font-size="6.84" text-anchor="middle" fill="#666" >2,81</text>
<text transform="translate(158.1,397.0) scale(0.86,1)" font-size="7.19" text-anchor="start" fill="#555" >30</text>
<text transform="translate(162.5,408.9) scale(0.86,1)" font-size="6.84" text-anchor="middle" fill="#666" >6,98</text>
<text transform="translate(173.3,397.0) scale(0.86,1)" font-size="7.19" text-anchor="start" fill="#555" >40</text>
<text transform="translate(179.1,408.9) scale(0.86,1)" font-size="6.84" text-anchor="middle" fill="#666" >13,09</text>
<text transform="translate(191.4,397.0) scale(0.86,1)" font-size="7.19" text-anchor="start" fill="#555" >50</text>
<text transform="translate(197.3,408.9) scale(0.86,1)" font-size="6.84" text-anchor="middle" fill="#666" >20,98</text>
<text transform="translate(209.7,397.0) scale(0.86,1)" font-size="7.19" text-anchor="start" fill="#555" >60</text>
<text transform="translate(215.6,408.9) scale(0.86,1)" font-size="6.84" text-anchor="middle" fill="#666" >31,39</text>
<text transform="translate(227.9,397.0) scale(0.86,1)" font-size="7.19" text-anchor="start" fill="#555" >70</text>
<text transform="translate(233.8,408.9) scale(0.86,1)" font-size="6.84" text-anchor="middle" fill="#666" >45,31</text>
<text transform="translate(246.2,397.0) scale(0.86,1)" font-size="7.19" text-anchor="start" fill="#555" >80</text>
<text transform="translate(252.2,408.9) scale(0.86,1)" font-size="6.84" text-anchor="middle" fill="#666" >61,47</text>
<text transform="translate(264.6,397.0) scale(0.86,1)" font-size="7.19" text-anchor="start" fill="#555" >90</text>
<text transform="translate(270.5,408.9) scale(0.86,1)" font-size="6.84" text-anchor="middle" fill="#666" >81,94</text>
<text transform="translate(282.8,397.0) scale(0.86,1)" font-size="7.19" text-anchor="start" fill="#555" >100</text>
<text transform="translate(290.3,408.9) scale(0.86,1)" font-size="6.84" text-anchor="middle" fill="#666" >108,99</text>
<text transform="translate(86,409.2) scale(0.86,1)" font-size="6.8" fill="#666">Y cd/m<tspan font-size="4.4" dy="-2.6">2</tspan></text>
<rect x="322.7" y="27.8" width="179.3" height="90.3" fill="none" stroke="#9c9c9c" stroke-width="1" />
<line x1="502.0" y1="28.3" x2="502.0" y2="117.6" stroke="#c6c6c6" stroke-width="1" />
<line x1="320.1" y1="28.2" x2="322.7" y2="28.2" stroke="#888" stroke-width="0.8" />
<text transform="translate(320.2,30.5) scale(0.86,1)" font-size="7.42" text-anchor="end" fill="#5a5a5a" >40</text>
<line x1="322.7" y1="50.6" x2="502.0" y2="50.6" stroke="#aaaaaa" stroke-width="1" />
<line x1="320.1" y1="50.6" x2="322.7" y2="50.6" stroke="#888" stroke-width="0.8" />
<text transform="translate(320.2,52.9) scale(0.86,1)" font-size="7.42" text-anchor="end" fill="#5a5a5a" >20</text>
<line x1="322.7" y1="73.1" x2="502.0" y2="73.1" stroke="#aaaaaa" stroke-width="1" />
<line x1="320.1" y1="73.1" x2="322.7" y2="73.1" stroke="#888" stroke-width="0.8" />
<text transform="translate(320.2,75.4) scale(0.86,1)" font-size="7.42" text-anchor="end" fill="#5a5a5a" >0</text>
<line x1="322.7" y1="95.5" x2="502.0" y2="95.5" stroke="#aaaaaa" stroke-width="1" />
<line x1="320.1" y1="95.5" x2="322.7" y2="95.5" stroke="#888" stroke-width="0.8" />
<text transform="translate(320.2,97.8) scale(0.86,1)" font-size="7.42" text-anchor="end" fill="#5a5a5a" >-20</text>
<line x1="320.1" y1="118.0" x2="322.7" y2="118.0" stroke="#888" stroke-width="0.8" />
<text transform="translate(320.2,120.3) scale(0.86,1)" font-size="7.42" text-anchor="end" fill="#5a5a5a" >-40</text>
<text transform="translate(407.0,24.8) scale(0.86,1)" font-size="7.42" text-anchor="middle" fill="#505050" >Gamut Luminance</text>
<line x1="322.7" y1="118.1" x2="322.7" y2="121.1" stroke="#888" stroke-width="0.8" />
<rect x="325.0" y="73.1" width="17.8" height="8.5" fill="url(#g1)" stroke="#3f3f3f" stroke-width="0.7" rx="0.8"/>
<text transform="translate(333.9,125.1) scale(0.86,1)" font-size="7.31" text-anchor="middle" fill="#555" >White</text>
<line x1="345.1" y1="118.1" x2="345.1" y2="121.1" stroke="#888" stroke-width="0.8" />
<rect x="347.4" y="73.1" width="17.8" height="8.5" fill="url(#g2)" stroke="#440000" stroke-width="0.7" rx="0.8"/>
<text transform="translate(356.3,125.1) scale(0.86,1)" font-size="7.31" text-anchor="middle" fill="#555" >Red</text>
<line x1="367.5" y1="118.1" x2="367.5" y2="121.1" stroke="#888" stroke-width="0.8" />
<rect x="369.8" y="73.1" width="17.8" height="1.0" fill="url(#g3)" stroke="none" stroke-width="0.7" rx="0.8"/>
<text transform="translate(378.7,125.1) scale(0.86,1)" font-size="7.31" text-anchor="middle" fill="#555" >Green</text>
<line x1="389.9" y1="118.1" x2="389.9" y2="121.1" stroke="#888" stroke-width="0.8" />
<rect x="392.2" y="73.1" width="17.8" height="1.0" fill="url(#g4)" stroke="none" stroke-width="0.7" rx="0.8"/>
<text transform="translate(401.1,125.1) scale(0.86,1)" font-size="7.31" text-anchor="middle" fill="#555" >Blue</text>
<line x1="412.4" y1="118.1" x2="412.4" y2="121.1" stroke="#888" stroke-width="0.8" />
<rect x="414.7" y="73.1" width="17.8" height="5.6" fill="url(#g5)" stroke="#003f44" stroke-width="0.7" rx="0.8"/>
<text transform="translate(423.6,125.1) scale(0.86,1)" font-size="7.31" text-anchor="middle" fill="#555" >Cyan</text>
<line x1="434.8" y1="118.1" x2="434.8" y2="121.1" stroke="#888" stroke-width="0.8" />
<rect x="437.1" y="68.0" width="17.8" height="5.1" fill="url(#g6)" stroke="#3f003f" stroke-width="0.7" rx="0.8"/>
<text transform="translate(446.0,125.1) scale(0.86,1)" font-size="7.31" text-anchor="middle" fill="#555" >Magenta</text>
<line x1="457.2" y1="118.1" x2="457.2" y2="121.1" stroke="#888" stroke-width="0.8" />
<rect x="459.5" y="73.1" width="17.8" height="9.5" fill="url(#g7)" stroke="#444400" stroke-width="0.7" rx="0.8"/>
<text transform="translate(468.4,125.1) scale(0.86,1)" font-size="7.31" text-anchor="middle" fill="#555" >Yellow</text>
<line x1="479.6" y1="118.1" x2="479.6" y2="121.1" stroke="#888" stroke-width="0.8" />
<rect x="481.9" y="73.1" width="17.8" height="1.0" fill="url(#g8)" stroke="none" stroke-width="0.7" rx="0.8"/>
<text transform="translate(490.8,125.1) scale(0.86,1)" font-size="7.31" text-anchor="middle" fill="#555" >100W</text>
<line x1="502.0" y1="118.1" x2="502.0" y2="121.1" stroke="#888" stroke-width="0.8" />
<rect x="320.0" y="143.0" width="182.0" height="89.8" fill="none" stroke="#b8b8b8" stroke-width="1" />
<line x1="320.0" y1="202.8" x2="502.0" y2="202.8" stroke="#b2b2b2" stroke-width="1" />
<line x1="317.4" y1="232.8" x2="320.0" y2="232.8" stroke="#888" stroke-width="0.8" />
<text transform="translate(317.5,235.1) scale(0.86,1)" font-size="7.42" text-anchor="end" fill="#5a5a5a" >0</text>
<line x1="317.4" y1="202.8" x2="320.0" y2="202.8" stroke="#888" stroke-width="0.8" />
<text transform="translate(317.5,205.1) scale(0.86,1)" font-size="7.42" text-anchor="end" fill="#5a5a5a" >5</text>
<line x1="317.4" y1="172.8" x2="320.0" y2="172.8" stroke="#888" stroke-width="0.8" />
<text transform="translate(317.5,175.1) scale(0.86,1)" font-size="7.42" text-anchor="end" fill="#5a5a5a" >10</text>
<line x1="317.4" y1="142.8" x2="320.0" y2="142.8" stroke="#888" stroke-width="0.8" />
<text transform="translate(317.5,145.1) scale(0.86,1)" font-size="7.42" text-anchor="end" fill="#5a5a5a" >15</text>
<rect x="340.0" y="222.2" width="2.5" height="10.6" fill="url(#g9)" stroke="#1c1c1c" stroke-width="0.55" />
<rect x="366.0" y="176.4" width="2.5" height="56.4" fill="url(#g10)" stroke="#1c1c1c" stroke-width="0.55" />
<rect x="374.0" y="206.4" width="2.5" height="26.4" fill="url(#g11)" stroke="#1c1c1c" stroke-width="0.55" />
<rect x="377.0" y="189.6" width="2.5" height="43.2" fill="url(#g12)" stroke="#1c1c1c" stroke-width="0.55" />
<rect x="380.0" y="188.4" width="2.5" height="44.4" fill="url(#g13)" stroke="#1c1c1c" stroke-width="0.55" />
<rect x="383.0" y="173.4" width="2.5" height="59.4" fill="url(#g14)" stroke="#1c1c1c" stroke-width="0.55" />
<rect x="386.0" y="188.4" width="2.5" height="44.4" fill="url(#g15)" stroke="#1c1c1c" stroke-width="0.55" />
<rect x="389.0" y="193.2" width="2.5" height="39.6" fill="url(#g16)" stroke="#1c1c1c" stroke-width="0.55" />
<rect x="400.0" y="214.4" width="2.5" height="18.4" fill="url(#g17)" stroke="#1c1c1c" stroke-width="0.55" />
<rect x="403.0" y="187.2" width="2.5" height="45.6" fill="url(#g18)" stroke="#1c1c1c" stroke-width="0.55" />
<rect x="406.0" y="188.4" width="2.5" height="44.4" fill="url(#g19)" stroke="#1c1c1c" stroke-width="0.55" />
<rect x="409.0" y="163.8" width="2.5" height="69.0" fill="url(#g20)" stroke="#1c1c1c" stroke-width="0.55" />
<rect x="412.0" y="198.0" width="2.5" height="34.8" fill="url(#g21)" stroke="#1c1c1c" stroke-width="0.55" />
<rect x="415.0" y="208.2" width="2.5" height="24.6" fill="url(#g22)" stroke="#1c1c1c" stroke-width="0.55" />
<rect x="426.0" y="216.0" width="2.5" height="16.8" fill="url(#g23)" stroke="#1c1c1c" stroke-width="0.55" />
<rect x="429.0" y="195.0" width="2.5" height="37.8" fill="url(#g24)" stroke="#1c1c1c" stroke-width="0.55" />
<rect x="432.0" y="186.6" width="2.5" height="46.2" fill="url(#g25)" stroke="#1c1c1c" stroke-width="0.55" />
<rect x="435.0" y="168.0" width="2.5" height="64.8" fill="url(#g26)" stroke="#1c1c1c" stroke-width="0.55" />
<rect x="438.0" y="203.4" width="2.5" height="29.4" fill="url(#g27)" stroke="#1c1c1c" stroke-width="0.55" />
<rect x="441.0" y="210.3" width="2.5" height="22.5" fill="url(#g28)" stroke="#1c1c1c" stroke-width="0.55" />
<rect x="452.0" y="213.9" width="2.5" height="18.9" fill="url(#g29)" stroke="#1c1c1c" stroke-width="0.55" />
<rect x="455.0" y="198.0" width="2.5" height="34.8" fill="url(#g30)" stroke="#1c1c1c" stroke-width="0.55" />
<rect x="458.0" y="183.9" width="2.5" height="48.9" fill="url(#g31)" stroke="#1c1c1c" stroke-width="0.55" />
<rect x="461.0" y="158.4" width="2.5" height="74.4" fill="url(#g32)" stroke="#1c1c1c" stroke-width="0.55" />
<rect x="464.0" y="211.8" width="2.5" height="21.0" fill="url(#g33)" stroke="#1c1c1c" stroke-width="0.55" />
<rect x="467.0" y="214.5" width="2.5" height="18.3" fill="url(#g34)" stroke="#1c1c1c" stroke-width="0.55" />
<rect x="478.0" y="223.8" width="2.5" height="9.0" fill="url(#g35)" stroke="#1c1c1c" stroke-width="0.55" />
<rect x="481.0" y="227.7" width="2.5" height="5.1" fill="url(#g36)" stroke="#1c1c1c" stroke-width="0.55" />
<rect x="484.0" y="193.8" width="2.5" height="39.0" fill="url(#g37)" stroke="#1c1c1c" stroke-width="0.55" />
<rect x="487.0" y="145.8" width="2.5" height="87.0" fill="url(#g38)" stroke="#1c1c1c" stroke-width="0.55" />
<rect x="490.0" y="215.4" width="2.5" height="17.4" fill="url(#g39)" stroke="#1c1c1c" stroke-width="0.55" />
<rect x="493.0" y="213.3" width="2.5" height="19.5" fill="url(#g40)" stroke="#1c1c1c" stroke-width="0.55" />
<line x1="320.0" y1="172.8" x2="502.0" y2="172.8" stroke="#c8405a" stroke-width="1.1" />
<line x1="320.0" y1="214.8" x2="502.0" y2="214.8" stroke="#eeee50" stroke-width="1.1" />
<line x1="320.0" y1="226.8" x2="502.0" y2="226.8" stroke="#5a9a60" stroke-width="0.9" opacity="0.7"/>
<line x1="320.0" y1="232.8" x2="320.0" y2="235.8" stroke="#888" stroke-width="0.8" />
<line x1="346.0" y1="232.8" x2="346.0" y2="235.8" stroke="#888" stroke-width="0.8" />
<line x1="372.0" y1="232.8" x2="372.0" y2="235.8" stroke="#888" stroke-width="0.8" />
<line x1="398.0" y1="232.8" x2="398.0" y2="235.8" stroke="#888" stroke-width="0.8" />
<line x1="424.0" y1="232.8" x2="424.0" y2="235.8" stroke="#888" stroke-width="0.8" />
<line x1="450.0" y1="232.8" x2="450.0" y2="235.8" stroke="#888" stroke-width="0.8" />
<line x1="476.0" y1="232.8" x2="476.0" y2="235.8" stroke="#888" stroke-width="0.8" />
<line x1="502.0" y1="232.8" x2="502.0" y2="235.8" stroke="#888" stroke-width="0.8" />
<text transform="translate(333.0,240.0) scale(0.86,1)" font-size="7.42" text-anchor="middle" fill="#5a5a5a" >0</text>
<text transform="translate(359.0,240.0) scale(0.86,1)" font-size="7.42" text-anchor="middle" fill="#5a5a5a" >100</text>
<text transform="translate(385.0,240.0) scale(0.86,1)" font-size="7.42" text-anchor="middle" fill="#5a5a5a" >20%</text>
<text transform="translate(411.0,240.0) scale(0.86,1)" font-size="7.42" text-anchor="middle" fill="#5a5a5a" >40%</text>
<text transform="translate(437.0,240.0) scale(0.86,1)" font-size="7.42" text-anchor="middle" fill="#5a5a5a" >60%</text>
<text transform="translate(463.0,240.0) scale(0.86,1)" font-size="7.42" text-anchor="middle" fill="#5a5a5a" >80%</text>
<text transform="translate(489.0,240.0) scale(0.86,1)" font-size="7.42" text-anchor="middle" fill="#5a5a5a" >100%</text>
<rect x="337.0" y="130.0" width="160.6" height="14.6" fill="#fff" stroke="none" stroke-width="1" />
<text transform="translate(337.9,141.7) scale(1,0.95)" font-size="12.6" fill="#1a1a1a" textLength="147.0" lengthAdjust="spacingAndGlyphs">Average DeltaE2000: 6,26</text>
<rect x="320.4" y="257.6" width="181.6" height="119.2" fill="none" stroke="#b8b8b8" stroke-width="1" />
<line x1="317.8" y1="376.8" x2="320.4" y2="376.8" stroke="#888" stroke-width="0.8" />
<text transform="translate(317.9,379.1) scale(0.86,1)" font-size="7.42" text-anchor="end" fill="#5a5a5a" >0</text>
<line x1="320.4" y1="360.9" x2="502.0" y2="360.9" stroke="#b2b2b2" stroke-width="1" />
<line x1="317.8" y1="360.9" x2="320.4" y2="360.9" stroke="#888" stroke-width="0.8" />
<text transform="translate(317.9,363.2) scale(0.86,1)" font-size="7.42" text-anchor="end" fill="#5a5a5a" >2</text>
<line x1="320.4" y1="345.1" x2="502.0" y2="345.1" stroke="#b2b2b2" stroke-width="1" />
<line x1="317.8" y1="345.1" x2="320.4" y2="345.1" stroke="#888" stroke-width="0.8" />
<text transform="translate(317.9,347.4) scale(0.86,1)" font-size="7.42" text-anchor="end" fill="#5a5a5a" >4</text>
<line x1="320.4" y1="329.2" x2="502.0" y2="329.2" stroke="#b2b2b2" stroke-width="1" />
<line x1="317.8" y1="329.2" x2="320.4" y2="329.2" stroke="#888" stroke-width="0.8" />
<text transform="translate(317.9,331.5) scale(0.86,1)" font-size="7.42" text-anchor="end" fill="#5a5a5a" >6</text>
<line x1="320.4" y1="313.3" x2="502.0" y2="313.3" stroke="#b2b2b2" stroke-width="1" />
<line x1="317.8" y1="313.3" x2="320.4" y2="313.3" stroke="#888" stroke-width="0.8" />
<text transform="translate(317.9,315.6) scale(0.86,1)" font-size="7.42" text-anchor="end" fill="#5a5a5a" >8</text>
<line x1="320.4" y1="297.4" x2="502.0" y2="297.4" stroke="#b2b2b2" stroke-width="1" />
<line x1="317.8" y1="297.4" x2="320.4" y2="297.4" stroke="#888" stroke-width="0.8" />
<text transform="translate(317.9,299.7) scale(0.86,1)" font-size="7.42" text-anchor="end" fill="#5a5a5a" >10</text>
<line x1="320.4" y1="281.6" x2="502.0" y2="281.6" stroke="#b2b2b2" stroke-width="1" />
<line x1="317.8" y1="281.6" x2="320.4" y2="281.6" stroke="#888" stroke-width="0.8" />
<text transform="translate(317.9,283.9) scale(0.86,1)" font-size="7.42" text-anchor="end" fill="#5a5a5a" >12</text>
<line x1="320.4" y1="265.7" x2="502.0" y2="265.7" stroke="#b2b2b2" stroke-width="1" />
<line x1="317.8" y1="265.7" x2="320.4" y2="265.7" stroke="#888" stroke-width="0.8" />
<text transform="translate(317.9,268.0) scale(0.86,1)" font-size="7.42" text-anchor="end" fill="#5a5a5a" >14</text>
<rect x="322.1" y="360.1" width="13.0" height="16.7" fill="url(#g41)" stroke="#1a1a1a" stroke-width="0.7" />
<line x1="320.4" y1="376.8" x2="320.4" y2="379.8" stroke="#888" stroke-width="0.8" />
<text transform="translate(328.7,384.0) scale(0.86,1)" font-size="7.42" text-anchor="middle" fill="#5a5a5a" >0</text>
<rect x="338.7" y="353.8" width="13.0" height="23.0" fill="url(#g42)" stroke="#1a1a1a" stroke-width="0.7" />
<line x1="336.9" y1="376.8" x2="336.9" y2="379.8" stroke="#888" stroke-width="0.8" />
<text transform="translate(345.2,384.0) scale(0.86,1)" font-size="7.42" text-anchor="middle" fill="#5a5a5a" >10</text>
<rect x="355.2" y="332.0" width="13.0" height="44.8" fill="url(#g43)" stroke="#1a1a1a" stroke-width="0.7" />
<line x1="353.4" y1="376.8" x2="353.4" y2="379.8" stroke="#888" stroke-width="0.8" />
<text transform="translate(361.7,384.0) scale(0.86,1)" font-size="7.42" text-anchor="middle" fill="#5a5a5a" >20</text>
<rect x="371.7" y="330.0" width="13.0" height="46.8" fill="url(#g44)" stroke="#1a1a1a" stroke-width="0.7" />
<line x1="369.9" y1="376.8" x2="369.9" y2="379.8" stroke="#888" stroke-width="0.8" />
<text transform="translate(378.2,384.0) scale(0.86,1)" font-size="7.42" text-anchor="middle" fill="#5a5a5a" >30</text>
<rect x="388.2" y="322.8" width="13.0" height="54.0" fill="url(#g45)" stroke="#1a1a1a" stroke-width="0.7" />
<line x1="386.4" y1="376.8" x2="386.4" y2="379.8" stroke="#888" stroke-width="0.8" />
<text transform="translate(394.7,384.0) scale(0.86,1)" font-size="7.42" text-anchor="middle" fill="#5a5a5a" >40</text>
<rect x="404.7" y="310.5" width="13.0" height="66.3" fill="url(#g46)" stroke="#1a1a1a" stroke-width="0.7" />
<line x1="402.9" y1="376.8" x2="402.9" y2="379.8" stroke="#888" stroke-width="0.8" />
<text transform="translate(411.2,384.0) scale(0.86,1)" font-size="7.42" text-anchor="middle" fill="#5a5a5a" >50</text>
<rect x="421.2" y="307.0" width="13.0" height="69.8" fill="url(#g47)" stroke="#1a1a1a" stroke-width="0.7" />
<line x1="419.5" y1="376.8" x2="419.5" y2="379.8" stroke="#888" stroke-width="0.8" />
<text transform="translate(427.7,384.0) scale(0.86,1)" font-size="7.42" text-anchor="middle" fill="#5a5a5a" >60</text>
<rect x="437.7" y="305.8" width="13.0" height="71.0" fill="url(#g48)" stroke="#1a1a1a" stroke-width="0.7" />
<line x1="436.0" y1="376.8" x2="436.0" y2="379.8" stroke="#888" stroke-width="0.8" />
<text transform="translate(444.2,384.0) scale(0.86,1)" font-size="7.42" text-anchor="middle" fill="#5a5a5a" >70</text>
<rect x="454.2" y="295.1" width="13.0" height="81.7" fill="url(#g49)" stroke="#1a1a1a" stroke-width="0.7" />
<line x1="452.5" y1="376.8" x2="452.5" y2="379.8" stroke="#888" stroke-width="0.8" />
<text transform="translate(460.7,384.0) scale(0.86,1)" font-size="7.42" text-anchor="middle" fill="#5a5a5a" >80</text>
<rect x="470.7" y="294.3" width="13.0" height="82.5" fill="url(#g50)" stroke="#1a1a1a" stroke-width="0.7" />
<line x1="469.0" y1="376.8" x2="469.0" y2="379.8" stroke="#888" stroke-width="0.8" />
<text transform="translate(477.2,384.0) scale(0.86,1)" font-size="7.42" text-anchor="middle" fill="#5a5a5a" >90</text>
<rect x="487.2" y="303.8" width="13.0" height="73.0" fill="url(#g51)" stroke="#1a1a1a" stroke-width="0.7" />
<line x1="485.5" y1="376.8" x2="485.5" y2="379.8" stroke="#888" stroke-width="0.8" />
<text transform="translate(493.7,384.0) scale(0.86,1)" font-size="7.42" text-anchor="middle" fill="#5a5a5a" >100</text>
<line x1="502.0" y1="376.8" x2="502.0" y2="379.8" stroke="#888" stroke-width="0.8" />
<line x1="320.4" y1="297.4" x2="502.0" y2="297.4" stroke="#e0607e" stroke-width="1.7" />
<line x1="320.4" y1="353.0" x2="502.0" y2="353.0" stroke="#f0f048" stroke-width="1.0" />
<line x1="320.4" y1="368.9" x2="502.0" y2="368.9" stroke="#3c8a44" stroke-width="0.9" opacity="0.85"/>
<rect x="337.0" y="246.0" width="160.6" height="15.6" fill="#fff" stroke="none" stroke-width="1" />
<text transform="translate(337.9,257.0) scale(1,0.95)" font-size="12.6" fill="#1a1a1a" textLength="146.8" lengthAdjust="spacingAndGlyphs">Average DeltaE2000: 7,76</text>
<rect x="523.4" y="27.4" width="168.4" height="138.9" fill="none" stroke="#c2c2c2" stroke-width="1" />
<text transform="translate(602.0,24.7) scale(0.86,1)" font-size="7.42" text-anchor="middle" fill="#505050" >RGB Balance</text>
<line x1="523.4" y1="41.3" x2="691.8" y2="41.3" stroke="#b2b2b2" stroke-width="1" />
<line x1="520.8" y1="41.3" x2="523.4" y2="41.3" stroke="#888" stroke-width="0.8" />
<text transform="translate(520.9,43.6) scale(0.86,1)" font-size="7.42" text-anchor="end" fill="#5a5a5a" >40</text>
<line x1="523.4" y1="69.3" x2="691.8" y2="69.3" stroke="#b2b2b2" stroke-width="1" />
<line x1="520.8" y1="69.3" x2="523.4" y2="69.3" stroke="#888" stroke-width="0.8" />
<text transform="translate(520.9,71.6) scale(0.86,1)" font-size="7.42" text-anchor="end" fill="#5a5a5a" >20</text>
<line x1="523.4" y1="97.3" x2="691.8" y2="97.3" stroke="#cfcfcf" stroke-width="1.8" />
<line x1="520.8" y1="97.3" x2="523.4" y2="97.3" stroke="#888" stroke-width="0.8" />
<text transform="translate(520.9,99.6) scale(0.86,1)" font-size="7.42" text-anchor="end" fill="#5a5a5a" >0</text>
<line x1="523.4" y1="125.3" x2="691.8" y2="125.3" stroke="#b2b2b2" stroke-width="1" />
<line x1="520.8" y1="125.3" x2="523.4" y2="125.3" stroke="#888" stroke-width="0.8" />
<text transform="translate(520.9,127.6) scale(0.86,1)" font-size="7.42" text-anchor="end" fill="#5a5a5a" >-20</text>
<line x1="523.4" y1="153.3" x2="691.8" y2="153.3" stroke="#b2b2b2" stroke-width="1" />
<line x1="520.8" y1="153.3" x2="523.4" y2="153.3" stroke="#888" stroke-width="0.8" />
<text transform="translate(520.9,155.6) scale(0.86,1)" font-size="7.42" text-anchor="end" fill="#5a5a5a" >-40</text>
<line x1="523.4" y1="166.3" x2="523.4" y2="169.3" stroke="#888" stroke-width="0.8" />
<text transform="translate(523.4,176.5) scale(0.86,1)" font-size="7.42" text-anchor="middle" fill="#5a5a5a" >0</text>
<line x1="557.1" y1="166.3" x2="557.1" y2="169.3" stroke="#888" stroke-width="0.8" />
<text transform="translate(557.1,176.5) scale(0.86,1)" font-size="7.42" text-anchor="middle" fill="#5a5a5a" >20</text>
<line x1="590.8" y1="166.3" x2="590.8" y2="169.3" stroke="#888" stroke-width="0.8" />
<text transform="translate(590.8,176.5) scale(0.86,1)" font-size="7.42" text-anchor="middle" fill="#5a5a5a" >40</text>
<line x1="624.4" y1="166.3" x2="624.4" y2="169.3" stroke="#888" stroke-width="0.8" />
<text transform="translate(624.4,176.5) scale(0.86,1)" font-size="7.42" text-anchor="middle" fill="#5a5a5a" >60</text>
<line x1="658.1" y1="166.3" x2="658.1" y2="169.3" stroke="#888" stroke-width="0.8" />
<text transform="translate(658.1,176.5) scale(0.86,1)" font-size="7.42" text-anchor="middle" fill="#5a5a5a" >80</text>
<line x1="691.8" y1="166.3" x2="691.8" y2="169.3" stroke="#888" stroke-width="0.8" />
<text transform="translate(691.8,176.5) scale(0.86,1)" font-size="7.42" text-anchor="middle" fill="#5a5a5a" >100</text>
<path d="M523.4,96.9 L540.2,103.6 L557.1,105.1 L573.9,106.1 L590.8,107.1 L607.6,108.8 L624.4,109.3 L641.3,108.0 L658.1,107.3 L675.0,104.3 L691.8,101.9" fill="none" stroke="#d8382c" stroke-width="1.3" stroke-linejoin="round"/>
<path d="M523.4,96.9 L540.2,104.3 L557.1,106.3 L573.9,106.3 L590.8,108.0 L607.6,112.2 L624.4,112.2 L641.3,110.5 L658.1,110.8 L675.0,108.0 L691.8,98.2" fill="none" stroke="#2c8c30" stroke-width="1.3" stroke-linejoin="round"/>
<path d="M523.4,92.0 L540.2,97.4 L557.1,91.3 L573.9,89.3 L590.8,88.8 L607.6,88.3 L624.4,85.3 L641.3,82.9 L658.1,78.4 L675.0,74.2 L691.8,66.6" fill="none" stroke="#2a2ac8" stroke-width="1.3" stroke-linejoin="round"/>
<rect x="531.7" y="194.0" width="160.0" height="113.4" fill="none" stroke="#b8b8b8" stroke-width="1" />
<line x1="529.1" y1="307.4" x2="531.7" y2="307.4" stroke="#888" stroke-width="0.8" />
<text transform="translate(529.2,309.7) scale(0.86,1)" font-size="7.19" text-anchor="end" fill="#5a5a5a" >3000</text>
<line x1="531.7" y1="291.2" x2="691.7" y2="291.2" stroke="#b2b2b2" stroke-width="1" />
<line x1="529.1" y1="291.2" x2="531.7" y2="291.2" stroke="#888" stroke-width="0.8" />
<text transform="translate(529.2,293.5) scale(0.86,1)" font-size="7.19" text-anchor="end" fill="#5a5a5a" >4000</text>
<line x1="531.7" y1="275.0" x2="691.7" y2="275.0" stroke="#b2b2b2" stroke-width="1" />
<line x1="529.1" y1="275.0" x2="531.7" y2="275.0" stroke="#888" stroke-width="0.8" />
<text transform="translate(529.2,277.3) scale(0.86,1)" font-size="7.19" text-anchor="end" fill="#5a5a5a" >5000</text>
<line x1="531.7" y1="258.8" x2="691.7" y2="258.8" stroke="#b2b2b2" stroke-width="1" />
<line x1="529.1" y1="258.8" x2="531.7" y2="258.8" stroke="#888" stroke-width="0.8" />
<text transform="translate(529.2,261.1) scale(0.86,1)" font-size="7.19" text-anchor="end" fill="#5a5a5a" >6000</text>
<line x1="531.7" y1="242.6" x2="691.7" y2="242.6" stroke="#b2b2b2" stroke-width="1" />
<line x1="529.1" y1="242.6" x2="531.7" y2="242.6" stroke="#888" stroke-width="0.8" />
<text transform="translate(529.2,244.9) scale(0.86,1)" font-size="7.19" text-anchor="end" fill="#5a5a5a" >7000</text>
<line x1="531.7" y1="226.4" x2="691.7" y2="226.4" stroke="#b2b2b2" stroke-width="1" />
<line x1="529.1" y1="226.4" x2="531.7" y2="226.4" stroke="#888" stroke-width="0.8" />
<text transform="translate(529.2,228.7) scale(0.86,1)" font-size="7.19" text-anchor="end" fill="#5a5a5a" >8000</text>
<line x1="531.7" y1="210.2" x2="691.7" y2="210.2" stroke="#b2b2b2" stroke-width="1" />
<line x1="529.1" y1="210.2" x2="531.7" y2="210.2" stroke="#888" stroke-width="0.8" />
<text transform="translate(529.2,212.5) scale(0.86,1)" font-size="7.19" text-anchor="end" fill="#5a5a5a" >9000</text>
<line x1="529.1" y1="194.0" x2="531.7" y2="194.0" stroke="#888" stroke-width="0.8" />
<text transform="translate(529.2,196.3) scale(0.86,1)" font-size="7.19" text-anchor="end" fill="#5a5a5a" >10000</text>
<rect x="533.6" y="194.0" width="11.0" height="113.4" fill="url(#g52)" stroke="#060606" stroke-width="0.7" />
<line x1="531.7" y1="307.4" x2="531.7" y2="310.4" stroke="#888" stroke-width="0.8" />
<text transform="translate(539.0,314.8) scale(0.86,1)" font-size="7.19" text-anchor="middle" fill="#5a5a5a" >0</text>
<rect x="548.1" y="223.3" width="11.0" height="84.1" fill="url(#g53)" stroke="#191919" stroke-width="0.7" />
<line x1="546.2" y1="307.4" x2="546.2" y2="310.4" stroke="#888" stroke-width="0.8" />
<text transform="translate(553.5,314.8) scale(0.86,1)" font-size="7.19" text-anchor="middle" fill="#5a5a5a" >10</text>
<rect x="562.7" y="221.0" width="11.0" height="86.4" fill="url(#g54)" stroke="#212121" stroke-width="0.7" />
<line x1="560.8" y1="307.4" x2="560.8" y2="310.4" stroke="#888" stroke-width="0.8" />
<text transform="translate(568.1,314.8) scale(0.86,1)" font-size="7.19" text-anchor="middle" fill="#5a5a5a" >20</text>
<rect x="577.2" y="226.3" width="11.0" height="81.1" fill="url(#g55)" stroke="#2a2a2a" stroke-width="0.7" />
<line x1="575.3" y1="307.4" x2="575.3" y2="310.4" stroke="#888" stroke-width="0.8" />
<text transform="translate(582.6,314.8) scale(0.86,1)" font-size="7.19" text-anchor="middle" fill="#5a5a5a" >30</text>
<rect x="591.8" y="230.0" width="11.0" height="77.4" fill="url(#g56)" stroke="#333333" stroke-width="0.7" />
<line x1="589.9" y1="307.4" x2="589.9" y2="310.4" stroke="#888" stroke-width="0.8" />
<text transform="translate(597.2,314.8) scale(0.86,1)" font-size="7.19" text-anchor="middle" fill="#5a5a5a" >40</text>
<rect x="606.3" y="230.0" width="11.0" height="77.4" fill="url(#g57)" stroke="#3b3b3b" stroke-width="0.7" />
<line x1="604.4" y1="307.4" x2="604.4" y2="310.4" stroke="#888" stroke-width="0.8" />
<text transform="translate(611.7,314.8) scale(0.86,1)" font-size="7.19" text-anchor="middle" fill="#5a5a5a" >50</text>
<rect x="620.9" y="229.0" width="11.0" height="78.4" fill="url(#g58)" stroke="#444444" stroke-width="0.7" />
<line x1="619.0" y1="307.4" x2="619.0" y2="310.4" stroke="#888" stroke-width="0.8" />
<text transform="translate(626.2,314.8) scale(0.86,1)" font-size="7.19" text-anchor="middle" fill="#5a5a5a" >60</text>
<rect x="635.4" y="231.3" width="11.0" height="76.1" fill="url(#g59)" stroke="#4d4d4d" stroke-width="0.7" />
<line x1="633.5" y1="307.4" x2="633.5" y2="310.4" stroke="#888" stroke-width="0.8" />
<text transform="translate(640.8,314.8) scale(0.86,1)" font-size="7.19" text-anchor="middle" fill="#5a5a5a" >70</text>
<rect x="650.0" y="229.8" width="11.0" height="77.6" fill="url(#g60)" stroke="#555555" stroke-width="0.7" />
<line x1="648.1" y1="307.4" x2="648.1" y2="310.4" stroke="#888" stroke-width="0.8" />
<text transform="translate(655.3,314.8) scale(0.86,1)" font-size="7.19" text-anchor="middle" fill="#5a5a5a" >80</text>
<rect x="664.5" y="232.2" width="11.0" height="75.2" fill="url(#g61)" stroke="#5e5e5e" stroke-width="0.7" />
<line x1="662.6" y1="307.4" x2="662.6" y2="310.4" stroke="#888" stroke-width="0.8" />
<text transform="translate(669.9,314.8) scale(0.86,1)" font-size="7.19" text-anchor="middle" fill="#5a5a5a" >90</text>
<rect x="679.1" y="232.2" width="11.0" height="75.2" fill="url(#g62)" stroke="#676767" stroke-width="0.7" />
<line x1="677.2" y1="307.4" x2="677.2" y2="310.4" stroke="#888" stroke-width="0.8" />
<text transform="translate(684.4,314.8) scale(0.86,1)" font-size="7.19" text-anchor="middle" fill="#5a5a5a" >100</text>
<line x1="691.7" y1="307.4" x2="691.7" y2="310.4" stroke="#888" stroke-width="0.8" />
<line x1="531.7" y1="250.7" x2="691.7" y2="250.7" stroke="#c8a040" stroke-width="0.7" opacity="0.45"/>
<rect x="538.8" y="181.0" width="144.0" height="16.9" fill="#fff" stroke="none" stroke-width="1" />
<text transform="translate(539.5,193.4) scale(1,0.95)" font-size="12.6" fill="#1a1a1a" textLength="101.2" lengthAdjust="spacingAndGlyphs">CCTAverage: 7865</text>
<text transform="translate(522.5,336.8) scale(1,0.87)" font-size="13.0" fill="#1a1a1a" textLength="131.6" lengthAdjust="spacingAndGlyphs">Manufacturer: Optoma</text>
<text transform="translate(522.5,354.1) scale(1,0.9)" font-size="13.0" fill="#1a1a1a" textLength="104.4" lengthAdjust="spacingAndGlyphs">Model: UHZ65UST</text>
<g id="logo">
<path d="M570.2,400.1 L573.7,398.5 L577.8,401.0 L576.1,402.9Z" fill="#41ade4" stroke="#41ade4" stroke-width="1.5" stroke-linejoin="round"/>
<path d="M584.6,398.0 L587.7,399.8 L579.1,404.6 L576.3,402.9Z" fill="#e2285c" stroke="#e2285c" stroke-width="1.5" stroke-linejoin="round"/>
<path d="M579.0,389.6 L591.7,396.8 L587.8,399.7 L584.6,398.0 L586.3,396.8 L580.4,393.1Z" fill="#2fc22c" stroke="#2fc22c" stroke-width="1.5" stroke-linejoin="round"/>
<path d="M561.6,398.6 L578.7,389.5 L581.8,391.1 L564.5,400.4Z" fill="#f8c524" stroke="#f8c524" stroke-width="1.5" stroke-linejoin="round"/>
<text x="595.0" y="403.6" font-size="25" font-family="DejaVu Sans, sans-serif" fill="#0a0a0a" stroke="#0a0a0a" stroke-width="0.45" textLength="103" lengthAdjust="spacingAndGlyphs">portrait</text>
<text x="652.0" y="413.6" font-size="8.1" font-family="DejaVu Sans, sans-serif" fill="#0a0a0a" stroke="#0a0a0a" stroke-width="0.12" textLength="39.2" lengthAdjust="spacingAndGlyphs">displays</text>
<text x="594.4" y="440.6" font-size="30.7" font-family="DejaVu Sans, sans-serif" fill="#0a0a0a" stroke="#0a0a0a" stroke-width="1.0" textLength="103" lengthAdjust="spacingAndGlyphs">calman</text>
<rect x="-4.88" y="-4.88" width="9.76" height="9.76" rx="1.5" transform="translate(577.4,425.1) rotate(45)" fill="#f8c12c"/>
<rect x="-4.88" y="-4.88" width="9.76" height="9.76" rx="1.5" transform="translate(569.8,432.8) rotate(45)" fill="#45b0e6"/>
<rect x="-4.88" y="-4.88" width="9.76" height="9.76" rx="1.5" transform="translate(585.2,432.8) rotate(45)" fill="#2fc22c"/>
<rect x="-4.88" y="-4.88" width="9.76" height="9.76" rx="1.5" transform="translate(577.4,440.8) rotate(45)" fill="#e2285c"/>
<path d="M573.7,427.4 L577.4,424.0 L581.1,427.4" fill="none" stroke="#fff4d0" stroke-width="1.1"/>
<path d="M572.1,429.1 L568.7,432.8 L572.1,436.5" fill="none" stroke="#dff2fc" stroke-width="1.1"/>
<path d="M582.9,429.1 L586.3,432.8 L582.9,436.5" fill="none" stroke="#d4f6d4" stroke-width="1.1"/>
<path d="M573.7,438.5 L577.4,441.9 L581.1,438.5" fill="none" stroke="#fcd4e0" stroke-width="1.1"/>
</g>
</svg>
</body></html>
